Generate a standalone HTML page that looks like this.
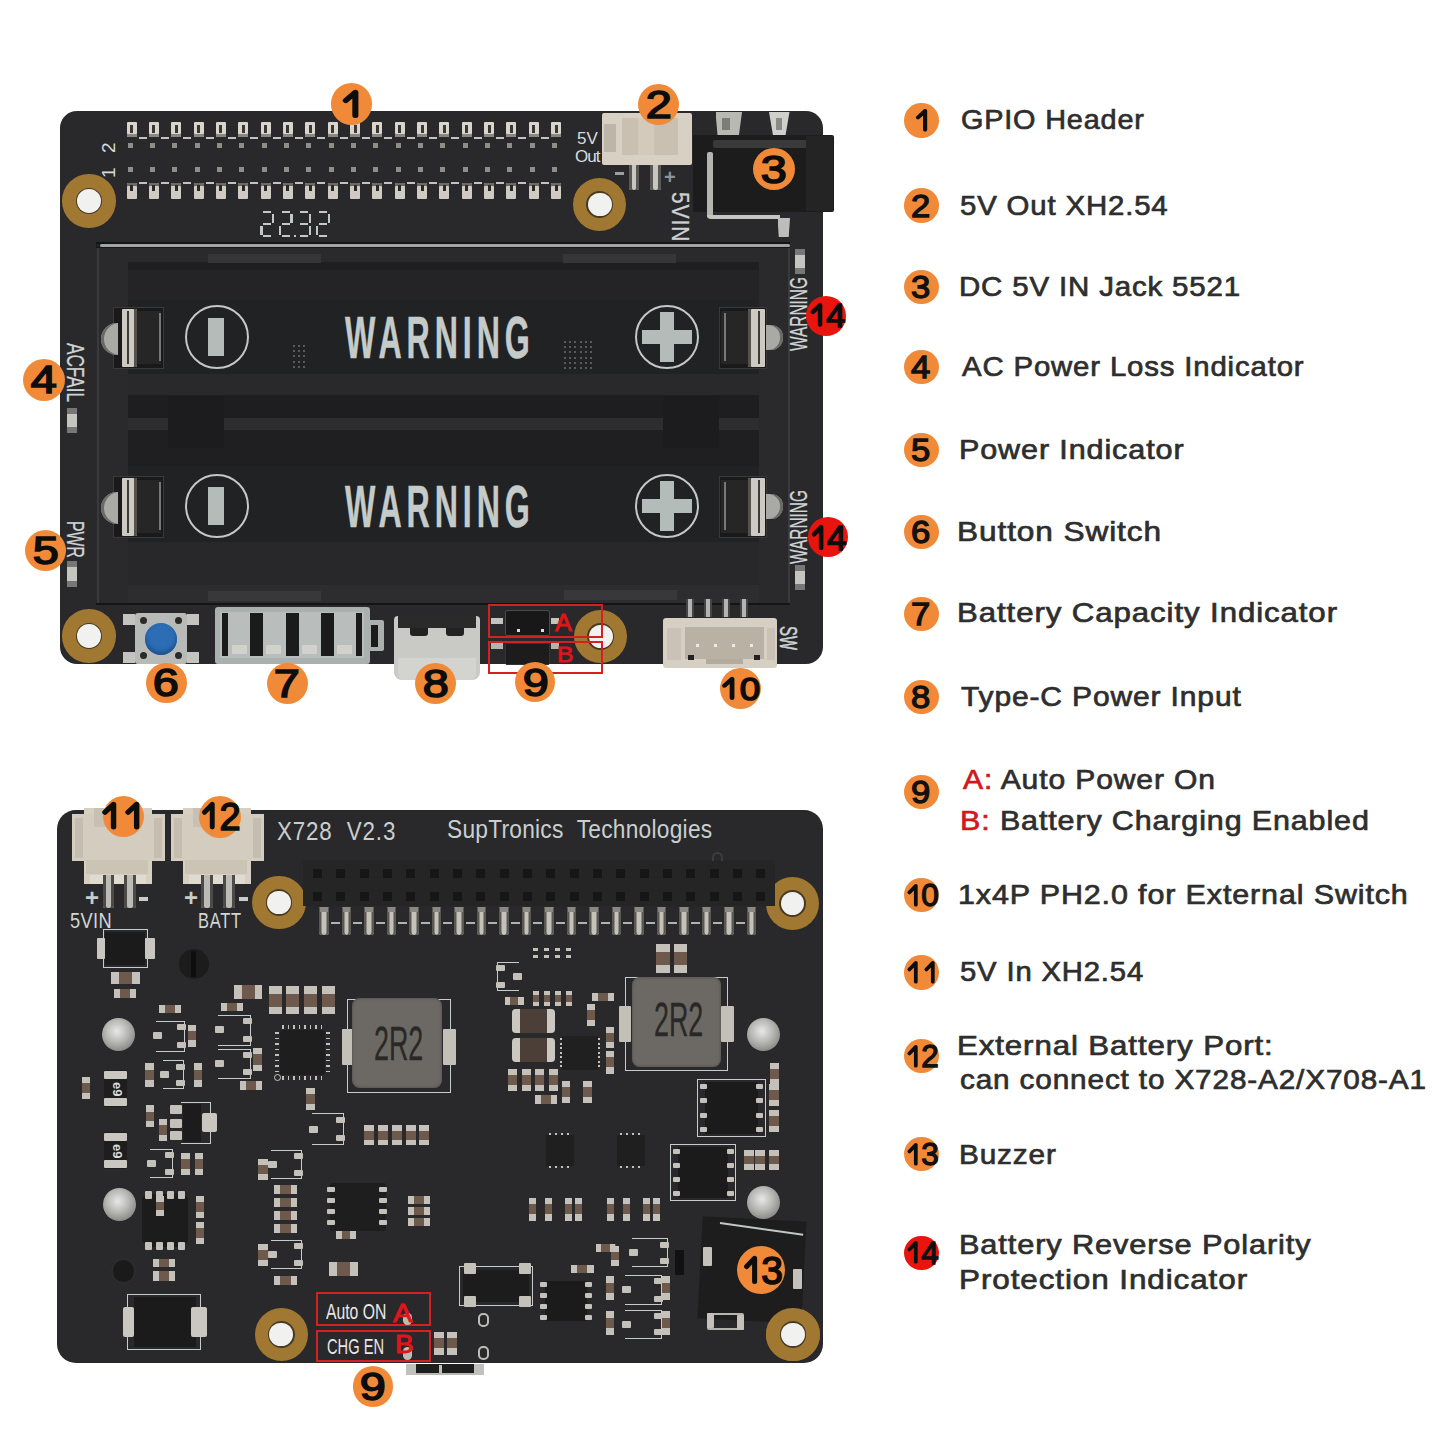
<!DOCTYPE html>
<html><head><meta charset="utf-8">
<style>
*{margin:0;padding:0;box-sizing:border-box}
html,body{width:1445px;height:1445px;background:#fff;overflow:hidden}
body{position:relative;font-family:"Liberation Sans",sans-serif}
.a{position:absolute}
.t{position:absolute;white-space:nowrap;line-height:1;font-family:"Liberation Sans",sans-serif}
.board{position:absolute;background:#29292b}
#b1{left:60px;top:111px;width:763px;height:553px;border-radius:17px}
#b2{left:57px;top:810px;width:766px;height:553px;border-radius:19px}
.num{position:absolute;border-radius:50%;color:#0d0d0d;font-weight:normal;-webkit-text-stroke:1.6px #0d0d0d;display:flex;align-items:center;justify-content:center;line-height:1;font-family:"Liberation Sans",sans-serif;white-space:nowrap}
.li{position:absolute;color:#2e2e2e;font-size:27.8px;line-height:1;white-space:nowrap;letter-spacing:0.8px;-webkit-text-stroke:0.7px #2e2e2e;transform-origin:left top}
.ln{position:absolute;width:34.5px;height:34.5px;border-radius:50%;background:#f18a38;color:#111;display:flex;align-items:center;justify-content:center;line-height:1;font-weight:normal;-webkit-text-stroke:1.3px #111;white-space:nowrap}
.ln.red{background:#e8150f}

</style></head>
<body>
<div class="board" id="b1"></div>
<div class="a" style="left:62.2px;top:174.2px;width:53.6px;height:53.6px;background:#a17832;border-radius:50%"></div>
<div class="a" style="left:75.7px;top:187.7px;width:26.6px;height:26.6px;background:#4a3a22;border-radius:50%"></div>
<div class="a" style="left:77.1px;top:189.1px;width:23.8px;height:23.8px;background:#f1f1ef;border-radius:50%"></div>
<div class="a" style="left:572.9000000000001px;top:177.7px;width:53.6px;height:53.6px;background:#a17832;border-radius:50%"></div>
<div class="a" style="left:586.4000000000001px;top:191.2px;width:26.6px;height:26.6px;background:#4a3a22;border-radius:50%"></div>
<div class="a" style="left:587.8000000000001px;top:192.6px;width:23.8px;height:23.8px;background:#f1f1ef;border-radius:50%"></div>
<div class="a" style="left:62.2px;top:609.2px;width:53.6px;height:53.6px;background:#a17832;border-radius:50%"></div>
<div class="a" style="left:75.7px;top:622.7px;width:26.6px;height:26.6px;background:#4a3a22;border-radius:50%"></div>
<div class="a" style="left:77.1px;top:624.1px;width:23.8px;height:23.8px;background:#f1f1ef;border-radius:50%"></div>
<div class="a" style="left:573.9000000000001px;top:609.6px;width:53.6px;height:53.6px;background:#a17832;border-radius:50%"></div>
<div class="a" style="left:587.4000000000001px;top:623.1px;width:26.6px;height:26.6px;background:#4a3a22;border-radius:50%"></div>
<div class="a" style="left:588.8000000000001px;top:624.5px;width:23.8px;height:23.8px;background:#f1f1ef;border-radius:50%"></div>
<div class="a" style="left:126.5px;top:121.5px;width:10px;height:15.5px;background:#d9d5cd;border-radius:1px;box-shadow:inset 0 -3px 0 #8c887f"></div>
<div class="a" style="left:130.0px;top:125px;width:3px;height:8px;background:#3a3835;"></div>
<div class="a" style="left:126.5px;top:182.5px;width:10px;height:16px;background:#cfcbc2;border-radius:1px;box-shadow:inset 0 3px 0 #6d6a63"></div>
<div class="a" style="left:130.0px;top:185px;width:3px;height:6px;background:#2a2826;"></div>
<div class="a" style="left:127.5px;top:143px;width:5px;height:5px;background:#8e8e88;"></div>
<div class="a" style="left:127.5px;top:167px;width:5px;height:5px;background:#8e8e88;"></div>
<div class="a" style="left:138.5px;top:137px;width:8px;height:1.6px;background:#bfc3c1;"></div>
<div class="a" style="left:138.5px;top:182px;width:8px;height:1.6px;background:#bfc3c1;"></div>
<div class="a" style="left:148.85px;top:121.5px;width:10px;height:15.5px;background:#d9d5cd;border-radius:1px;box-shadow:inset 0 -3px 0 #8c887f"></div>
<div class="a" style="left:152.35px;top:125px;width:3px;height:8px;background:#3a3835;"></div>
<div class="a" style="left:148.85px;top:182.5px;width:10px;height:16px;background:#cfcbc2;border-radius:1px;box-shadow:inset 0 3px 0 #6d6a63"></div>
<div class="a" style="left:152.35px;top:185px;width:3px;height:6px;background:#2a2826;"></div>
<div class="a" style="left:149.85px;top:143px;width:5px;height:5px;background:#8e8e88;"></div>
<div class="a" style="left:149.85px;top:167px;width:5px;height:5px;background:#8e8e88;"></div>
<div class="a" style="left:160.85px;top:137px;width:8px;height:1.6px;background:#bfc3c1;"></div>
<div class="a" style="left:160.85px;top:182px;width:8px;height:1.6px;background:#bfc3c1;"></div>
<div class="a" style="left:171.2px;top:121.5px;width:10px;height:15.5px;background:#d9d5cd;border-radius:1px;box-shadow:inset 0 -3px 0 #8c887f"></div>
<div class="a" style="left:174.7px;top:125px;width:3px;height:8px;background:#3a3835;"></div>
<div class="a" style="left:171.2px;top:182.5px;width:10px;height:16px;background:#cfcbc2;border-radius:1px;box-shadow:inset 0 3px 0 #6d6a63"></div>
<div class="a" style="left:174.7px;top:185px;width:3px;height:6px;background:#2a2826;"></div>
<div class="a" style="left:172.2px;top:143px;width:5px;height:5px;background:#8e8e88;"></div>
<div class="a" style="left:172.2px;top:167px;width:5px;height:5px;background:#8e8e88;"></div>
<div class="a" style="left:183.2px;top:137px;width:8px;height:1.6px;background:#bfc3c1;"></div>
<div class="a" style="left:183.2px;top:182px;width:8px;height:1.6px;background:#bfc3c1;"></div>
<div class="a" style="left:193.55px;top:121.5px;width:10px;height:15.5px;background:#d9d5cd;border-radius:1px;box-shadow:inset 0 -3px 0 #8c887f"></div>
<div class="a" style="left:197.05px;top:125px;width:3px;height:8px;background:#3a3835;"></div>
<div class="a" style="left:193.55px;top:182.5px;width:10px;height:16px;background:#cfcbc2;border-radius:1px;box-shadow:inset 0 3px 0 #6d6a63"></div>
<div class="a" style="left:197.05px;top:185px;width:3px;height:6px;background:#2a2826;"></div>
<div class="a" style="left:194.55px;top:143px;width:5px;height:5px;background:#8e8e88;"></div>
<div class="a" style="left:194.55px;top:167px;width:5px;height:5px;background:#8e8e88;"></div>
<div class="a" style="left:205.55px;top:137px;width:8px;height:1.6px;background:#bfc3c1;"></div>
<div class="a" style="left:205.55px;top:182px;width:8px;height:1.6px;background:#bfc3c1;"></div>
<div class="a" style="left:215.9px;top:121.5px;width:10px;height:15.5px;background:#d9d5cd;border-radius:1px;box-shadow:inset 0 -3px 0 #8c887f"></div>
<div class="a" style="left:219.4px;top:125px;width:3px;height:8px;background:#3a3835;"></div>
<div class="a" style="left:215.9px;top:182.5px;width:10px;height:16px;background:#cfcbc2;border-radius:1px;box-shadow:inset 0 3px 0 #6d6a63"></div>
<div class="a" style="left:219.4px;top:185px;width:3px;height:6px;background:#2a2826;"></div>
<div class="a" style="left:216.9px;top:143px;width:5px;height:5px;background:#8e8e88;"></div>
<div class="a" style="left:216.9px;top:167px;width:5px;height:5px;background:#8e8e88;"></div>
<div class="a" style="left:227.9px;top:137px;width:8px;height:1.6px;background:#bfc3c1;"></div>
<div class="a" style="left:227.9px;top:182px;width:8px;height:1.6px;background:#bfc3c1;"></div>
<div class="a" style="left:238.25px;top:121.5px;width:10px;height:15.5px;background:#d9d5cd;border-radius:1px;box-shadow:inset 0 -3px 0 #8c887f"></div>
<div class="a" style="left:241.75px;top:125px;width:3px;height:8px;background:#3a3835;"></div>
<div class="a" style="left:238.25px;top:182.5px;width:10px;height:16px;background:#cfcbc2;border-radius:1px;box-shadow:inset 0 3px 0 #6d6a63"></div>
<div class="a" style="left:241.75px;top:185px;width:3px;height:6px;background:#2a2826;"></div>
<div class="a" style="left:239.25px;top:143px;width:5px;height:5px;background:#8e8e88;"></div>
<div class="a" style="left:239.25px;top:167px;width:5px;height:5px;background:#8e8e88;"></div>
<div class="a" style="left:250.25px;top:137px;width:8px;height:1.6px;background:#bfc3c1;"></div>
<div class="a" style="left:250.25px;top:182px;width:8px;height:1.6px;background:#bfc3c1;"></div>
<div class="a" style="left:260.6px;top:121.5px;width:10px;height:15.5px;background:#d9d5cd;border-radius:1px;box-shadow:inset 0 -3px 0 #8c887f"></div>
<div class="a" style="left:264.1px;top:125px;width:3px;height:8px;background:#3a3835;"></div>
<div class="a" style="left:260.6px;top:182.5px;width:10px;height:16px;background:#cfcbc2;border-radius:1px;box-shadow:inset 0 3px 0 #6d6a63"></div>
<div class="a" style="left:264.1px;top:185px;width:3px;height:6px;background:#2a2826;"></div>
<div class="a" style="left:261.6px;top:143px;width:5px;height:5px;background:#8e8e88;"></div>
<div class="a" style="left:261.6px;top:167px;width:5px;height:5px;background:#8e8e88;"></div>
<div class="a" style="left:272.6px;top:137px;width:8px;height:1.6px;background:#bfc3c1;"></div>
<div class="a" style="left:272.6px;top:182px;width:8px;height:1.6px;background:#bfc3c1;"></div>
<div class="a" style="left:282.95000000000005px;top:121.5px;width:10px;height:15.5px;background:#d9d5cd;border-radius:1px;box-shadow:inset 0 -3px 0 #8c887f"></div>
<div class="a" style="left:286.45000000000005px;top:125px;width:3px;height:8px;background:#3a3835;"></div>
<div class="a" style="left:282.95000000000005px;top:182.5px;width:10px;height:16px;background:#cfcbc2;border-radius:1px;box-shadow:inset 0 3px 0 #6d6a63"></div>
<div class="a" style="left:286.45000000000005px;top:185px;width:3px;height:6px;background:#2a2826;"></div>
<div class="a" style="left:283.95000000000005px;top:143px;width:5px;height:5px;background:#8e8e88;"></div>
<div class="a" style="left:283.95000000000005px;top:167px;width:5px;height:5px;background:#8e8e88;"></div>
<div class="a" style="left:294.95000000000005px;top:137px;width:8px;height:1.6px;background:#bfc3c1;"></div>
<div class="a" style="left:294.95000000000005px;top:182px;width:8px;height:1.6px;background:#bfc3c1;"></div>
<div class="a" style="left:305.3px;top:121.5px;width:10px;height:15.5px;background:#d9d5cd;border-radius:1px;box-shadow:inset 0 -3px 0 #8c887f"></div>
<div class="a" style="left:308.8px;top:125px;width:3px;height:8px;background:#3a3835;"></div>
<div class="a" style="left:305.3px;top:182.5px;width:10px;height:16px;background:#cfcbc2;border-radius:1px;box-shadow:inset 0 3px 0 #6d6a63"></div>
<div class="a" style="left:308.8px;top:185px;width:3px;height:6px;background:#2a2826;"></div>
<div class="a" style="left:306.3px;top:143px;width:5px;height:5px;background:#8e8e88;"></div>
<div class="a" style="left:306.3px;top:167px;width:5px;height:5px;background:#8e8e88;"></div>
<div class="a" style="left:317.3px;top:137px;width:8px;height:1.6px;background:#bfc3c1;"></div>
<div class="a" style="left:317.3px;top:182px;width:8px;height:1.6px;background:#bfc3c1;"></div>
<div class="a" style="left:327.65px;top:121.5px;width:10px;height:15.5px;background:#d9d5cd;border-radius:1px;box-shadow:inset 0 -3px 0 #8c887f"></div>
<div class="a" style="left:331.15px;top:125px;width:3px;height:8px;background:#3a3835;"></div>
<div class="a" style="left:327.65px;top:182.5px;width:10px;height:16px;background:#cfcbc2;border-radius:1px;box-shadow:inset 0 3px 0 #6d6a63"></div>
<div class="a" style="left:331.15px;top:185px;width:3px;height:6px;background:#2a2826;"></div>
<div class="a" style="left:328.65px;top:143px;width:5px;height:5px;background:#8e8e88;"></div>
<div class="a" style="left:328.65px;top:167px;width:5px;height:5px;background:#8e8e88;"></div>
<div class="a" style="left:339.65px;top:137px;width:8px;height:1.6px;background:#bfc3c1;"></div>
<div class="a" style="left:339.65px;top:182px;width:8px;height:1.6px;background:#bfc3c1;"></div>
<div class="a" style="left:350.0px;top:121.5px;width:10px;height:15.5px;background:#d9d5cd;border-radius:1px;box-shadow:inset 0 -3px 0 #8c887f"></div>
<div class="a" style="left:353.5px;top:125px;width:3px;height:8px;background:#3a3835;"></div>
<div class="a" style="left:350.0px;top:182.5px;width:10px;height:16px;background:#cfcbc2;border-radius:1px;box-shadow:inset 0 3px 0 #6d6a63"></div>
<div class="a" style="left:353.5px;top:185px;width:3px;height:6px;background:#2a2826;"></div>
<div class="a" style="left:351.0px;top:143px;width:5px;height:5px;background:#8e8e88;"></div>
<div class="a" style="left:351.0px;top:167px;width:5px;height:5px;background:#8e8e88;"></div>
<div class="a" style="left:362.0px;top:137px;width:8px;height:1.6px;background:#bfc3c1;"></div>
<div class="a" style="left:362.0px;top:182px;width:8px;height:1.6px;background:#bfc3c1;"></div>
<div class="a" style="left:372.35px;top:121.5px;width:10px;height:15.5px;background:#d9d5cd;border-radius:1px;box-shadow:inset 0 -3px 0 #8c887f"></div>
<div class="a" style="left:375.85px;top:125px;width:3px;height:8px;background:#3a3835;"></div>
<div class="a" style="left:372.35px;top:182.5px;width:10px;height:16px;background:#cfcbc2;border-radius:1px;box-shadow:inset 0 3px 0 #6d6a63"></div>
<div class="a" style="left:375.85px;top:185px;width:3px;height:6px;background:#2a2826;"></div>
<div class="a" style="left:373.35px;top:143px;width:5px;height:5px;background:#8e8e88;"></div>
<div class="a" style="left:373.35px;top:167px;width:5px;height:5px;background:#8e8e88;"></div>
<div class="a" style="left:384.35px;top:137px;width:8px;height:1.6px;background:#bfc3c1;"></div>
<div class="a" style="left:384.35px;top:182px;width:8px;height:1.6px;background:#bfc3c1;"></div>
<div class="a" style="left:394.70000000000005px;top:121.5px;width:10px;height:15.5px;background:#d9d5cd;border-radius:1px;box-shadow:inset 0 -3px 0 #8c887f"></div>
<div class="a" style="left:398.20000000000005px;top:125px;width:3px;height:8px;background:#3a3835;"></div>
<div class="a" style="left:394.70000000000005px;top:182.5px;width:10px;height:16px;background:#cfcbc2;border-radius:1px;box-shadow:inset 0 3px 0 #6d6a63"></div>
<div class="a" style="left:398.20000000000005px;top:185px;width:3px;height:6px;background:#2a2826;"></div>
<div class="a" style="left:395.70000000000005px;top:143px;width:5px;height:5px;background:#8e8e88;"></div>
<div class="a" style="left:395.70000000000005px;top:167px;width:5px;height:5px;background:#8e8e88;"></div>
<div class="a" style="left:406.70000000000005px;top:137px;width:8px;height:1.6px;background:#bfc3c1;"></div>
<div class="a" style="left:406.70000000000005px;top:182px;width:8px;height:1.6px;background:#bfc3c1;"></div>
<div class="a" style="left:417.05px;top:121.5px;width:10px;height:15.5px;background:#d9d5cd;border-radius:1px;box-shadow:inset 0 -3px 0 #8c887f"></div>
<div class="a" style="left:420.55px;top:125px;width:3px;height:8px;background:#3a3835;"></div>
<div class="a" style="left:417.05px;top:182.5px;width:10px;height:16px;background:#cfcbc2;border-radius:1px;box-shadow:inset 0 3px 0 #6d6a63"></div>
<div class="a" style="left:420.55px;top:185px;width:3px;height:6px;background:#2a2826;"></div>
<div class="a" style="left:418.05px;top:143px;width:5px;height:5px;background:#8e8e88;"></div>
<div class="a" style="left:418.05px;top:167px;width:5px;height:5px;background:#8e8e88;"></div>
<div class="a" style="left:429.05px;top:137px;width:8px;height:1.6px;background:#bfc3c1;"></div>
<div class="a" style="left:429.05px;top:182px;width:8px;height:1.6px;background:#bfc3c1;"></div>
<div class="a" style="left:439.40000000000003px;top:121.5px;width:10px;height:15.5px;background:#d9d5cd;border-radius:1px;box-shadow:inset 0 -3px 0 #8c887f"></div>
<div class="a" style="left:442.90000000000003px;top:125px;width:3px;height:8px;background:#3a3835;"></div>
<div class="a" style="left:439.40000000000003px;top:182.5px;width:10px;height:16px;background:#cfcbc2;border-radius:1px;box-shadow:inset 0 3px 0 #6d6a63"></div>
<div class="a" style="left:442.90000000000003px;top:185px;width:3px;height:6px;background:#2a2826;"></div>
<div class="a" style="left:440.40000000000003px;top:143px;width:5px;height:5px;background:#8e8e88;"></div>
<div class="a" style="left:440.40000000000003px;top:167px;width:5px;height:5px;background:#8e8e88;"></div>
<div class="a" style="left:451.40000000000003px;top:137px;width:8px;height:1.6px;background:#bfc3c1;"></div>
<div class="a" style="left:451.40000000000003px;top:182px;width:8px;height:1.6px;background:#bfc3c1;"></div>
<div class="a" style="left:461.75px;top:121.5px;width:10px;height:15.5px;background:#d9d5cd;border-radius:1px;box-shadow:inset 0 -3px 0 #8c887f"></div>
<div class="a" style="left:465.25px;top:125px;width:3px;height:8px;background:#3a3835;"></div>
<div class="a" style="left:461.75px;top:182.5px;width:10px;height:16px;background:#cfcbc2;border-radius:1px;box-shadow:inset 0 3px 0 #6d6a63"></div>
<div class="a" style="left:465.25px;top:185px;width:3px;height:6px;background:#2a2826;"></div>
<div class="a" style="left:462.75px;top:143px;width:5px;height:5px;background:#8e8e88;"></div>
<div class="a" style="left:462.75px;top:167px;width:5px;height:5px;background:#8e8e88;"></div>
<div class="a" style="left:473.75px;top:137px;width:8px;height:1.6px;background:#bfc3c1;"></div>
<div class="a" style="left:473.75px;top:182px;width:8px;height:1.6px;background:#bfc3c1;"></div>
<div class="a" style="left:484.1px;top:121.5px;width:10px;height:15.5px;background:#d9d5cd;border-radius:1px;box-shadow:inset 0 -3px 0 #8c887f"></div>
<div class="a" style="left:487.6px;top:125px;width:3px;height:8px;background:#3a3835;"></div>
<div class="a" style="left:484.1px;top:182.5px;width:10px;height:16px;background:#cfcbc2;border-radius:1px;box-shadow:inset 0 3px 0 #6d6a63"></div>
<div class="a" style="left:487.6px;top:185px;width:3px;height:6px;background:#2a2826;"></div>
<div class="a" style="left:485.1px;top:143px;width:5px;height:5px;background:#8e8e88;"></div>
<div class="a" style="left:485.1px;top:167px;width:5px;height:5px;background:#8e8e88;"></div>
<div class="a" style="left:496.1px;top:137px;width:8px;height:1.6px;background:#bfc3c1;"></div>
<div class="a" style="left:496.1px;top:182px;width:8px;height:1.6px;background:#bfc3c1;"></div>
<div class="a" style="left:506.45000000000005px;top:121.5px;width:10px;height:15.5px;background:#d9d5cd;border-radius:1px;box-shadow:inset 0 -3px 0 #8c887f"></div>
<div class="a" style="left:509.95000000000005px;top:125px;width:3px;height:8px;background:#3a3835;"></div>
<div class="a" style="left:506.45000000000005px;top:182.5px;width:10px;height:16px;background:#cfcbc2;border-radius:1px;box-shadow:inset 0 3px 0 #6d6a63"></div>
<div class="a" style="left:509.95000000000005px;top:185px;width:3px;height:6px;background:#2a2826;"></div>
<div class="a" style="left:507.45000000000005px;top:143px;width:5px;height:5px;background:#8e8e88;"></div>
<div class="a" style="left:507.45000000000005px;top:167px;width:5px;height:5px;background:#8e8e88;"></div>
<div class="a" style="left:518.45px;top:137px;width:8px;height:1.6px;background:#bfc3c1;"></div>
<div class="a" style="left:518.45px;top:182px;width:8px;height:1.6px;background:#bfc3c1;"></div>
<div class="a" style="left:528.8px;top:121.5px;width:10px;height:15.5px;background:#d9d5cd;border-radius:1px;box-shadow:inset 0 -3px 0 #8c887f"></div>
<div class="a" style="left:532.3px;top:125px;width:3px;height:8px;background:#3a3835;"></div>
<div class="a" style="left:528.8px;top:182.5px;width:10px;height:16px;background:#cfcbc2;border-radius:1px;box-shadow:inset 0 3px 0 #6d6a63"></div>
<div class="a" style="left:532.3px;top:185px;width:3px;height:6px;background:#2a2826;"></div>
<div class="a" style="left:529.8px;top:143px;width:5px;height:5px;background:#8e8e88;"></div>
<div class="a" style="left:529.8px;top:167px;width:5px;height:5px;background:#8e8e88;"></div>
<div class="a" style="left:540.8px;top:137px;width:8px;height:1.6px;background:#bfc3c1;"></div>
<div class="a" style="left:540.8px;top:182px;width:8px;height:1.6px;background:#bfc3c1;"></div>
<div class="a" style="left:551.1500000000001px;top:121.5px;width:10px;height:15.5px;background:#d9d5cd;border-radius:1px;box-shadow:inset 0 -3px 0 #8c887f"></div>
<div class="a" style="left:554.6500000000001px;top:125px;width:3px;height:8px;background:#3a3835;"></div>
<div class="a" style="left:551.1500000000001px;top:182.5px;width:10px;height:16px;background:#cfcbc2;border-radius:1px;box-shadow:inset 0 3px 0 #6d6a63"></div>
<div class="a" style="left:554.6500000000001px;top:185px;width:3px;height:6px;background:#2a2826;"></div>
<div class="a" style="left:552.1500000000001px;top:143px;width:5px;height:5px;background:#8e8e88;"></div>
<div class="a" style="left:552.1500000000001px;top:167px;width:5px;height:5px;background:#8e8e88;"></div>
<div class="t" style="left:99px;top:153px;font-size:19px;color:#d6dad8;transform:rotate(-90deg);transform-origin:left top">2</div>
<div class="t" style="left:99px;top:178px;font-size:19px;color:#d6dad8;transform:rotate(-90deg);transform-origin:left top">1</div>
<div class="a" style="left:263.3px;top:211px;width:8px;height:2.4px;background:#c3c7c7;"></div>
<div class="a" style="left:271.90000000000003px;top:214px;width:2.4px;height:8.5px;background:#c3c7c7;"></div>
<div class="a" style="left:263.3px;top:223px;width:8px;height:2.4px;background:#c3c7c7;"></div>
<div class="a" style="left:260.3px;top:226px;width:2.4px;height:8.5px;background:#c3c7c7;"></div>
<div class="a" style="left:263.3px;top:234.5px;width:8px;height:2.4px;background:#c3c7c7;"></div>
<div class="a" style="left:281.6px;top:211px;width:8px;height:2.4px;background:#c3c7c7;"></div>
<div class="a" style="left:290.20000000000005px;top:214px;width:2.4px;height:8.5px;background:#c3c7c7;"></div>
<div class="a" style="left:281.6px;top:223px;width:8px;height:2.4px;background:#c3c7c7;"></div>
<div class="a" style="left:278.6px;top:226px;width:2.4px;height:8.5px;background:#c3c7c7;"></div>
<div class="a" style="left:281.6px;top:234.5px;width:8px;height:2.4px;background:#c3c7c7;"></div>
<div class="a" style="left:300.3px;top:211px;width:8px;height:2.4px;background:#c3c7c7;"></div>
<div class="a" style="left:308.90000000000003px;top:214px;width:2.4px;height:8.5px;background:#c3c7c7;"></div>
<div class="a" style="left:300.3px;top:223px;width:8px;height:2.4px;background:#c3c7c7;"></div>
<div class="a" style="left:308.90000000000003px;top:226px;width:2.4px;height:8.5px;background:#c3c7c7;"></div>
<div class="a" style="left:300.3px;top:234.5px;width:8px;height:2.4px;background:#c3c7c7;"></div>
<div class="a" style="left:319px;top:211px;width:8px;height:2.4px;background:#c3c7c7;"></div>
<div class="a" style="left:327.6px;top:214px;width:2.4px;height:8.5px;background:#c3c7c7;"></div>
<div class="a" style="left:319px;top:223px;width:8px;height:2.4px;background:#c3c7c7;"></div>
<div class="a" style="left:316px;top:226px;width:2.4px;height:8.5px;background:#c3c7c7;"></div>
<div class="a" style="left:319px;top:234.5px;width:8px;height:2.4px;background:#c3c7c7;"></div>
<div class="a" style="left:293.6px;top:234.5px;width:2.4px;height:2.2px;background:#c3c7c7;"></div>
<div class="a" style="left:602px;top:112.5px;width:90px;height:52px;background:#d7d0c3;border-radius:2px"></div>
<div class="a" style="left:622px;top:118px;width:56px;height:37px;background:#c9c0b1;"></div>
<div class="a" style="left:638px;top:118px;width:16px;height:37px;background:#d3cabb;"></div>
<div class="a" style="left:604px;top:124px;width:12px;height:28px;background:#bdb6a8;"></div>
<div class="a" style="left:628.5px;top:165px;width:10.5px;height:25px;background:#c8c6c0;border-radius:0 0 2px 2px;box-shadow:inset 3px 0 0 #5a5854,inset -3px 0 0 #5a5854"></div>
<div class="a" style="left:650px;top:165px;width:10.5px;height:25px;background:#c8c6c0;border-radius:0 0 2px 2px;box-shadow:inset 3px 0 0 #5a5854,inset -3px 0 0 #5a5854"></div>
<div class="t" style="left:577px;top:130px;font-size:17px;color:#d8dcdc;">5V</div>
<div class="t" style="left:575px;top:148px;font-size:17px;color:#d8dcdc;letter-spacing:-1px">Out</div>
<div class="a" style="left:615px;top:172px;width:9px;height:3px;background:#9aa09e;"></div>
<div class="t" style="left:664px;top:167px;font-size:20px;color:#8d9593;font-weight:bold">+</div>
<div class="t" style="left:691.7px;top:191.5px;font-size:24.5px;color:#cdd1d1;transform:rotate(90deg) scaleX(0.86);transform-origin:left top;letter-spacing:1px;-webkit-text-stroke:0.3px #cdd1d1">5VIN</div>
<div class="a" style="left:715.5px;top:112px;width:26.5px;height:24px;background:#b9b9b4;clip-path:polygon(0 0,100% 0,88% 100%,8% 100%)"></div>
<div class="a" style="left:722px;top:118px;width:8px;height:12px;background:#7d7d78;"></div>
<div class="a" style="left:769px;top:112px;width:20.5px;height:24px;background:#cfcfcb;clip-path:polygon(0 0,100% 0,80% 100%,20% 100%)"></div>
<div class="a" style="left:776px;top:118px;width:6px;height:12px;background:#8a8a86;"></div>
<div class="a" style="left:693px;top:135px;width:141px;height:77px;background:#1c1c1c;border-radius:2px"></div>
<div class="a" style="left:713px;top:140px;width:95px;height:8px;background:#3a3a3a;border-radius:2px"></div>
<div class="a" style="left:707px;top:152px;width:5.5px;height:66px;background:#b4b4b0;border-radius:2px"></div>
<div class="a" style="left:707px;top:214.5px;width:73px;height:4.5px;background:#c4c4c0;border-radius:0 0 0 4px"></div>
<div class="a" style="left:777.5px;top:218px;width:12.5px;height:19px;background:#bdbdb9;clip-path:polygon(0 0,100% 0,90% 100%,10% 100%)"></div>
<div class="a" style="left:806px;top:136px;width:27px;height:75px;background:#242424;"></div>
<div class="a" style="left:96px;top:243px;width:694px;height:362px;background:#1f1f21;border-radius:2px"></div>
<div class="a" style="left:96px;top:603px;width:694px;height:2px;background:#141414;"></div>
<div class="a" style="left:96px;top:241.5px;width:694px;height:2px;background:#141414;"></div>
<div class="a" style="left:100px;top:243.5px;width:690px;height:3px;background:#a0a4a4;border-radius:2px"></div>
<div class="a" style="left:96px;top:246.5px;width:694px;height:1.5px;background:#161616;"></div>
<div class="a" style="left:96px;top:248px;width:694px;height:14px;background:#2a2a2c;"></div>
<div class="a" style="left:96px;top:585px;width:694px;height:18px;background:#2d2d2f;"></div>
<div class="a" style="left:128px;top:270px;width:631px;height:30px;background:#242426;"></div>
<div class="a" style="left:128px;top:542px;width:631px;height:43px;background:#28282a;"></div>
<div class="a" style="left:96px;top:248px;width:32px;height:355px;background:#2a2a2c;"></div>
<div class="a" style="left:97px;top:248px;width:2px;height:355px;background:#3a3a3c;"></div>
<div class="a" style="left:759px;top:248px;width:31px;height:355px;background:#2a2a2c;"></div>
<div class="a" style="left:787.5px;top:248px;width:2px;height:355px;background:#3a3a3c;"></div>
<div class="a" style="left:208px;top:254px;width:113px;height:9px;background:#363638;"></div>
<div class="a" style="left:563px;top:254px;width:113px;height:9px;background:#363638;"></div>
<div class="a" style="left:208px;top:591px;width:113px;height:10px;background:#38383a;"></div>
<div class="a" style="left:564px;top:590px;width:113px;height:10px;background:#38383a;"></div>
<div class="a" style="left:128px;top:300px;width:631px;height:74px;background:#212224;"></div>
<div class="a" style="left:128px;top:466px;width:631px;height:76px;background:#212224;"></div>
<div class="a" style="left:128px;top:374px;width:631px;height:21px;background:#29292b;"></div>
<div class="a" style="left:128px;top:395px;width:631px;height:23px;background:#1e1e20;"></div>
<div class="a" style="left:128px;top:418px;width:631px;height:12px;background:#2d2d2f;"></div>
<div class="a" style="left:128px;top:430px;width:631px;height:36px;background:#1f1f21;"></div>
<div class="a" style="left:168px;top:396px;width:56px;height:52px;background:#1c1c1e;border-radius:4px"></div>
<div class="a" style="left:663px;top:396px;width:56px;height:52px;background:#1c1c1e;border-radius:4px"></div>
<div class="a" style="left:184.5px;top:305px;width:64px;height:64px;background:transparent;border:2px solid #c3c8c8;border-radius:50%"></div>
<div class="a" style="left:208px;top:318px;width:16px;height:38px;background:#b4bcba;"></div>
<div class="a" style="left:635px;top:305px;width:64px;height:64px;background:transparent;border:2px solid #c3c8c8;border-radius:50%"></div>
<div class="a" style="left:642px;top:330px;width:50px;height:14px;background:#b4bcba;"></div>
<div class="a" style="left:660px;top:312px;width:14px;height:50px;background:#b4bcba;"></div>
<div class="t" style="left:344.5px;top:309.06px;font-size:59px;color:#c4cbc9;font-weight:bold;letter-spacing:9px;transform:scaleX(0.545);transform-origin:left top;-webkit-text-stroke:0.5px #c4cbc9">WARNING</div>
<div class="a" style="left:113px;top:307px;width:51px;height:62px;background:#1a1a1a;border:1px solid #3a3a3a"></div>
<div class="a" style="left:100.5px;top:322.5px;width:17px;height:32.5px;background:#a9a9a5;border-radius:16px 0 0 16px;box-shadow:inset 3px 0 0 #6a6a66"></div>
<div class="a" style="left:121.8px;top:308.5px;width:15.5px;height:58px;background:#cdcac3;box-shadow:inset -3px 0 0 #55524d;border-radius:1px"></div>
<div class="a" style="left:126.5px;top:311px;width:2px;height:53px;background:#3d3b38;"></div>
<div class="a" style="left:137.3px;top:311px;width:24px;height:53px;background:#262626;"></div>
<div class="a" style="left:159px;top:313px;width:2px;height:48px;background:#777;"></div>
<div class="a" style="left:719px;top:307px;width:48px;height:62px;background:#1a1a1a;border:1px solid #3a3a3a"></div>
<div class="a" style="left:766px;top:325px;width:17px;height:25px;background:#a9a9a5;border-radius:0 12px 12px 0;box-shadow:inset -3px 0 0 #6a6a66"></div>
<div class="a" style="left:748.3px;top:308.5px;width:17px;height:58px;background:#cdcac3;box-shadow:inset 3px 0 0 #55524d;border-radius:1px"></div>
<div class="a" style="left:758px;top:311px;width:2px;height:53px;background:#3d3b38;"></div>
<div class="a" style="left:721px;top:311px;width:27px;height:53px;background:#262626;"></div>
<div class="a" style="left:724px;top:313px;width:2px;height:48px;background:#777;"></div>
<div class="a" style="left:184.5px;top:474px;width:64px;height:64px;background:transparent;border:2px solid #c3c8c8;border-radius:50%"></div>
<div class="a" style="left:208px;top:487px;width:16px;height:38px;background:#b4bcba;"></div>
<div class="a" style="left:635px;top:474px;width:64px;height:64px;background:transparent;border:2px solid #c3c8c8;border-radius:50%"></div>
<div class="a" style="left:642px;top:499px;width:50px;height:14px;background:#b4bcba;"></div>
<div class="a" style="left:660px;top:481px;width:14px;height:50px;background:#b4bcba;"></div>
<div class="t" style="left:344.5px;top:478.06px;font-size:59px;color:#c4cbc9;font-weight:bold;letter-spacing:9px;transform:scaleX(0.545);transform-origin:left top;-webkit-text-stroke:0.5px #c4cbc9">WARNING</div>
<div class="a" style="left:113px;top:476px;width:51px;height:62px;background:#1a1a1a;border:1px solid #3a3a3a"></div>
<div class="a" style="left:100.5px;top:491.5px;width:17px;height:32.5px;background:#a9a9a5;border-radius:16px 0 0 16px;box-shadow:inset 3px 0 0 #6a6a66"></div>
<div class="a" style="left:121.8px;top:477.5px;width:15.5px;height:58px;background:#cdcac3;box-shadow:inset -3px 0 0 #55524d;border-radius:1px"></div>
<div class="a" style="left:126.5px;top:480px;width:2px;height:53px;background:#3d3b38;"></div>
<div class="a" style="left:137.3px;top:480px;width:24px;height:53px;background:#262626;"></div>
<div class="a" style="left:159px;top:482px;width:2px;height:48px;background:#777;"></div>
<div class="a" style="left:719px;top:476px;width:48px;height:62px;background:#1a1a1a;border:1px solid #3a3a3a"></div>
<div class="a" style="left:766px;top:494px;width:17px;height:25px;background:#a9a9a5;border-radius:0 12px 12px 0;box-shadow:inset -3px 0 0 #6a6a66"></div>
<div class="a" style="left:748.3px;top:477.5px;width:17px;height:58px;background:#cdcac3;box-shadow:inset 3px 0 0 #55524d;border-radius:1px"></div>
<div class="a" style="left:758px;top:480px;width:2px;height:53px;background:#3d3b38;"></div>
<div class="a" style="left:721px;top:480px;width:27px;height:53px;background:#262626;"></div>
<div class="a" style="left:724px;top:482px;width:2px;height:48px;background:#777;"></div>
<div class="a" style="left:293.0px;top:345.0px;width:2px;height:2px;background:#5a5a5a;"></div>
<div class="a" style="left:298.2px;top:345.0px;width:2px;height:2px;background:#5a5a5a;"></div>
<div class="a" style="left:303.4px;top:345.0px;width:2px;height:2px;background:#5a5a5a;"></div>
<div class="a" style="left:293.0px;top:350.2px;width:2px;height:2px;background:#5a5a5a;"></div>
<div class="a" style="left:298.2px;top:350.2px;width:2px;height:2px;background:#5a5a5a;"></div>
<div class="a" style="left:303.4px;top:350.2px;width:2px;height:2px;background:#5a5a5a;"></div>
<div class="a" style="left:293.0px;top:355.4px;width:2px;height:2px;background:#5a5a5a;"></div>
<div class="a" style="left:298.2px;top:355.4px;width:2px;height:2px;background:#5a5a5a;"></div>
<div class="a" style="left:303.4px;top:355.4px;width:2px;height:2px;background:#5a5a5a;"></div>
<div class="a" style="left:293.0px;top:360.6px;width:2px;height:2px;background:#5a5a5a;"></div>
<div class="a" style="left:298.2px;top:360.6px;width:2px;height:2px;background:#5a5a5a;"></div>
<div class="a" style="left:303.4px;top:360.6px;width:2px;height:2px;background:#5a5a5a;"></div>
<div class="a" style="left:293.0px;top:365.8px;width:2px;height:2px;background:#5a5a5a;"></div>
<div class="a" style="left:298.2px;top:365.8px;width:2px;height:2px;background:#5a5a5a;"></div>
<div class="a" style="left:303.4px;top:365.8px;width:2px;height:2px;background:#5a5a5a;"></div>
<div class="a" style="left:564.0px;top:341.0px;width:2px;height:2px;background:#5a5a5a;"></div>
<div class="a" style="left:569.2px;top:341.0px;width:2px;height:2px;background:#5a5a5a;"></div>
<div class="a" style="left:574.4px;top:341.0px;width:2px;height:2px;background:#5a5a5a;"></div>
<div class="a" style="left:579.6px;top:341.0px;width:2px;height:2px;background:#5a5a5a;"></div>
<div class="a" style="left:584.8px;top:341.0px;width:2px;height:2px;background:#5a5a5a;"></div>
<div class="a" style="left:590.0px;top:341.0px;width:2px;height:2px;background:#5a5a5a;"></div>
<div class="a" style="left:564.0px;top:346.2px;width:2px;height:2px;background:#5a5a5a;"></div>
<div class="a" style="left:569.2px;top:346.2px;width:2px;height:2px;background:#5a5a5a;"></div>
<div class="a" style="left:574.4px;top:346.2px;width:2px;height:2px;background:#5a5a5a;"></div>
<div class="a" style="left:579.6px;top:346.2px;width:2px;height:2px;background:#5a5a5a;"></div>
<div class="a" style="left:584.8px;top:346.2px;width:2px;height:2px;background:#5a5a5a;"></div>
<div class="a" style="left:590.0px;top:346.2px;width:2px;height:2px;background:#5a5a5a;"></div>
<div class="a" style="left:564.0px;top:351.4px;width:2px;height:2px;background:#5a5a5a;"></div>
<div class="a" style="left:569.2px;top:351.4px;width:2px;height:2px;background:#5a5a5a;"></div>
<div class="a" style="left:574.4px;top:351.4px;width:2px;height:2px;background:#5a5a5a;"></div>
<div class="a" style="left:579.6px;top:351.4px;width:2px;height:2px;background:#5a5a5a;"></div>
<div class="a" style="left:584.8px;top:351.4px;width:2px;height:2px;background:#5a5a5a;"></div>
<div class="a" style="left:590.0px;top:351.4px;width:2px;height:2px;background:#5a5a5a;"></div>
<div class="a" style="left:564.0px;top:356.6px;width:2px;height:2px;background:#5a5a5a;"></div>
<div class="a" style="left:569.2px;top:356.6px;width:2px;height:2px;background:#5a5a5a;"></div>
<div class="a" style="left:574.4px;top:356.6px;width:2px;height:2px;background:#5a5a5a;"></div>
<div class="a" style="left:579.6px;top:356.6px;width:2px;height:2px;background:#5a5a5a;"></div>
<div class="a" style="left:584.8px;top:356.6px;width:2px;height:2px;background:#5a5a5a;"></div>
<div class="a" style="left:590.0px;top:356.6px;width:2px;height:2px;background:#5a5a5a;"></div>
<div class="a" style="left:564.0px;top:361.8px;width:2px;height:2px;background:#5a5a5a;"></div>
<div class="a" style="left:569.2px;top:361.8px;width:2px;height:2px;background:#5a5a5a;"></div>
<div class="a" style="left:574.4px;top:361.8px;width:2px;height:2px;background:#5a5a5a;"></div>
<div class="a" style="left:579.6px;top:361.8px;width:2px;height:2px;background:#5a5a5a;"></div>
<div class="a" style="left:584.8px;top:361.8px;width:2px;height:2px;background:#5a5a5a;"></div>
<div class="a" style="left:590.0px;top:361.8px;width:2px;height:2px;background:#5a5a5a;"></div>
<div class="a" style="left:564.0px;top:367.0px;width:2px;height:2px;background:#5a5a5a;"></div>
<div class="a" style="left:569.2px;top:367.0px;width:2px;height:2px;background:#5a5a5a;"></div>
<div class="a" style="left:574.4px;top:367.0px;width:2px;height:2px;background:#5a5a5a;"></div>
<div class="a" style="left:579.6px;top:367.0px;width:2px;height:2px;background:#5a5a5a;"></div>
<div class="a" style="left:584.8px;top:367.0px;width:2px;height:2px;background:#5a5a5a;"></div>
<div class="a" style="left:590.0px;top:367.0px;width:2px;height:2px;background:#5a5a5a;"></div>
<div class="t" style="left:86.5px;top:342.5px;font-size:24.5px;color:#cfd3d3;transform:rotate(90deg) scaleX(0.70);transform-origin:left top;-webkit-text-stroke:0.3px #cfd3d3">ACFAIL</div>
<div class="a" style="left:67px;top:408px;width:10px;height:25px;background:#c5c5c0;box-shadow:inset 0 6px 0 #777, inset 0 -6px 0 #777"></div>
<div class="t" style="left:86.5px;top:521px;font-size:24.5px;color:#cfd3d3;transform:rotate(90deg) scaleX(0.645);transform-origin:left top;-webkit-text-stroke:0.3px #cfd3d3">PWR</div>
<div class="a" style="left:67px;top:561px;width:10px;height:26px;background:#c5c5c0;box-shadow:inset 0 6px 0 #777, inset 0 -6px 0 #777"></div>
<div class="t" style="left:787.1px;top:351px;font-size:24.5px;color:#cfd3d3;transform:rotate(-90deg) scaleX(0.63);transform-origin:left top;-webkit-text-stroke:0.3px #cfd3d3">WARNING</div>
<div class="a" style="left:795px;top:249px;width:10px;height:25px;background:#c5c5c0;box-shadow:inset 0 6px 0 #777, inset 0 -6px 0 #777"></div>
<div class="t" style="left:787.1px;top:564px;font-size:24.5px;color:#cfd3d3;transform:rotate(-90deg) scaleX(0.63);transform-origin:left top;-webkit-text-stroke:0.3px #cfd3d3">WARNING</div>
<div class="a" style="left:795px;top:565px;width:10px;height:25px;background:#c5c5c0;box-shadow:inset 0 6px 0 #777, inset 0 -6px 0 #777"></div>
<div class="a" style="left:135px;top:613px;width:52px;height:51px;background:#b8bab8;border-radius:3px"></div>
<div class="a" style="left:123px;top:614px;width:12px;height:11px;background:#c5c3bd;"></div>
<div class="a" style="left:187px;top:614px;width:12px;height:11px;background:#c5c3bd;"></div>
<div class="a" style="left:123px;top:652px;width:12px;height:11px;background:#c5c3bd;"></div>
<div class="a" style="left:187px;top:652px;width:12px;height:11px;background:#c5c3bd;"></div>
<div class="a" style="left:140px;top:617px;width:7px;height:7px;background:#2a2a2a;border-radius:50%"></div>
<div class="a" style="left:175px;top:617px;width:7px;height:7px;background:#2a2a2a;border-radius:50%"></div>
<div class="a" style="left:140px;top:652px;width:7px;height:7px;background:#2a2a2a;border-radius:50%"></div>
<div class="a" style="left:175px;top:652px;width:7px;height:7px;background:#2a2a2a;border-radius:50%"></div>
<div class="a" style="left:145px;top:623px;width:32px;height:32px;background:#2c6db5;border-radius:50%;box-shadow:inset 0 -3px 4px #1d4e8a"></div>
<div class="a" style="left:214.5px;top:606.5px;width:155px;height:57px;background:#a9b0ae;border-radius:3px"></div>
<div class="a" style="left:220px;top:612px;width:144px;height:46px;background:#b9bebc;"></div>
<div class="a" style="left:221.8px;top:613px;width:6.199999999999989px;height:43px;background:#1b1b1b;"></div>
<div class="a" style="left:249.8px;top:613px;width:13.5px;height:43px;background:#1b1b1b;"></div>
<div class="a" style="left:286px;top:613px;width:12.600000000000023px;height:43px;background:#1b1b1b;"></div>
<div class="a" style="left:321.4px;top:613px;width:12.600000000000023px;height:43px;background:#1b1b1b;"></div>
<div class="a" style="left:355.7px;top:613px;width:6.300000000000011px;height:43px;background:#1b1b1b;"></div>
<div class="a" style="left:232px;top:645px;width:15px;height:9px;background:#d2d2cc;border-radius:1px"></div>
<div class="a" style="left:266px;top:645px;width:15px;height:9px;background:#d2d2cc;border-radius:1px"></div>
<div class="a" style="left:302px;top:645px;width:15px;height:9px;background:#d2d2cc;border-radius:1px"></div>
<div class="a" style="left:337px;top:645px;width:15px;height:9px;background:#d2d2cc;border-radius:1px"></div>
<div class="a" style="left:369px;top:620px;width:15px;height:31px;background:#a9b0ae;border-radius:0 2px 2px 0"></div>
<div class="a" style="left:371px;top:625px;width:7px;height:22px;background:#1b1b1b;"></div>
<div class="a" style="left:394px;top:616px;width:86px;height:64px;background:#c9c9c5;border-radius:4px 4px 8px 8px"></div>
<div class="a" style="left:398px;top:616px;width:78px;height:12px;background:#2a2a2a;"></div>
<div class="a" style="left:410px;top:628px;width:18px;height:8px;background:#222;border-radius:0 0 3px 3px"></div>
<div class="a" style="left:446px;top:628px;width:18px;height:8px;background:#222;border-radius:0 0 3px 3px"></div>
<div class="a" style="left:398px;top:658px;width:78px;height:22px;background:#d3d3cf;border-radius:0 0 6px 6px"></div>
<div class="a" style="left:505px;top:610px;width:45px;height:26px;background:#181818;border:1.2px solid #4a4a4a;border-radius:2px"></div>
<div class="a" style="left:517px;top:629px;width:2.5px;height:2.5px;background:#ddd;"></div>
<div class="a" style="left:541px;top:629px;width:2.5px;height:2.5px;background:#ddd;"></div>
<div class="a" style="left:491px;top:618px;width:12px;height:6px;background:#c4c4be;"></div>
<div class="a" style="left:551px;top:618px;width:8px;height:6px;background:#c4c4be;"></div>
<div class="a" style="left:505px;top:643px;width:45px;height:22px;background:#1c1c1c;border:1.2px solid #333;border-radius:2px"></div>
<div class="a" style="left:491px;top:643px;width:12px;height:6px;background:#b4b4ae;"></div>
<div class="a" style="left:551px;top:643px;width:8px;height:6px;background:#b4b4ae;"></div>
<div class="a" style="left:488.3px;top:603.8px;width:115px;height:34px;background:transparent;border:2px solid #d42020"></div>
<div class="a" style="left:488.3px;top:640.5px;width:115px;height:33.5px;background:transparent;border:2px solid #d42020"></div>
<div class="t" style="left:555.4px;top:611.16px;font-size:24px;color:#e2141a;-webkit-text-stroke:0.8px #e2141a;transform:scaleX(1.05);transform-origin:left top">A</div>
<div class="t" style="left:556.5px;top:643.8px;font-size:22.5px;color:#e2141a;-webkit-text-stroke:0.8px #e2141a;transform:scaleX(1.1);transform-origin:left top">B</div>
<div class="a" style="left:686px;top:599px;width:8px;height:18px;background:#b4b4b0;box-shadow:inset 2px 0 0 #444,inset -2px 0 0 #444"></div>
<div class="a" style="left:704px;top:599px;width:8px;height:18px;background:#b4b4b0;box-shadow:inset 2px 0 0 #444,inset -2px 0 0 #444"></div>
<div class="a" style="left:722px;top:599px;width:8px;height:18px;background:#b4b4b0;box-shadow:inset 2px 0 0 #444,inset -2px 0 0 #444"></div>
<div class="a" style="left:740px;top:599px;width:8px;height:18px;background:#b4b4b0;box-shadow:inset 2px 0 0 #444,inset -2px 0 0 #444"></div>
<div class="a" style="left:663px;top:617.5px;width:114.4px;height:50.5px;background:#d6d0c4;border-radius:3px"></div>
<div class="a" style="left:684.7px;top:626.7px;width:79px;height:32.3px;background:#b9b1a3;"></div>
<div class="a" style="left:705.7px;top:659px;width:37px;height:5px;background:#b3ab9d;"></div>
<div class="a" style="left:667px;top:628px;width:14px;height:32px;background:#c9c2b5;"></div>
<div class="a" style="left:767px;top:628px;width:8px;height:32px;background:#c9c2b5;"></div>
<div class="a" style="left:696px;top:644px;width:3px;height:3px;background:#eeeae2;"></div>
<div class="a" style="left:714px;top:644px;width:3px;height:3px;background:#eeeae2;"></div>
<div class="a" style="left:732px;top:644px;width:3px;height:3px;background:#eeeae2;"></div>
<div class="a" style="left:750px;top:644px;width:3px;height:3px;background:#eeeae2;"></div>
<div class="a" style="left:688px;top:655px;width:6px;height:5px;background:#222;"></div>
<div class="a" style="left:754px;top:655px;width:6px;height:5px;background:#222;"></div>
<div class="t" style="left:800.3px;top:626px;font-size:24px;color:#cfd3d3;transform:rotate(90deg) scaleX(0.62);transform-origin:left top;-webkit-text-stroke:0.5px #cfd3d3">SW</div>
<div class="board" id="b2"></div>
<div class="a" style="left:252.2px;top:875.7px;width:53.6px;height:53.6px;background:#a17832;border-radius:50%"></div>
<div class="a" style="left:265.7px;top:889.2px;width:26.6px;height:26.6px;background:#4a3a22;border-radius:50%"></div>
<div class="a" style="left:267.1px;top:890.6px;width:23.8px;height:23.8px;background:#f1f1ef;border-radius:50%"></div>
<div class="a" style="left:765.7px;top:876.7px;width:53.6px;height:53.6px;background:#a17832;border-radius:50%"></div>
<div class="a" style="left:779.2px;top:890.2px;width:26.6px;height:26.6px;background:#4a3a22;border-radius:50%"></div>
<div class="a" style="left:780.6px;top:891.6px;width:23.8px;height:23.8px;background:#f1f1ef;border-radius:50%"></div>
<div class="a" style="left:254.5px;top:1307.6000000000001px;width:53.6px;height:53.6px;background:#a17832;border-radius:50%"></div>
<div class="a" style="left:268.0px;top:1321.1000000000001px;width:26.6px;height:26.6px;background:#4a3a22;border-radius:50%"></div>
<div class="a" style="left:269.40000000000003px;top:1322.5px;width:23.8px;height:23.8px;background:#f1f1ef;border-radius:50%"></div>
<div class="a" style="left:766.2px;top:1307.6000000000001px;width:53.6px;height:53.6px;background:#a17832;border-radius:50%"></div>
<div class="a" style="left:779.7px;top:1321.1000000000001px;width:26.6px;height:26.6px;background:#4a3a22;border-radius:50%"></div>
<div class="a" style="left:781.1px;top:1322.5px;width:23.8px;height:23.8px;background:#f1f1ef;border-radius:50%"></div>
<div class="a" style="left:84px;top:808px;width:68px;height:76px;background:#d6cfc2;"></div>
<div class="a" style="left:72px;top:814px;width:93px;height:47px;background:#d3ccbf;"></div>
<div class="a" style="left:75px;top:818px;width:8px;height:40px;background:#c4bdb0;"></div>
<div class="a" style="left:154px;top:818px;width:8px;height:40px;background:#c4bdb0;"></div>
<div class="a" style="left:94px;top:808px;width:18px;height:19px;background:#c8c0b2;"></div>
<div class="a" style="left:86px;top:860px;width:62px;height:14px;background:#cbc3b4;"></div>
<div class="a" style="left:90px;top:875px;width:56px;height:9px;background:#e0dbd1;"></div>
<div class="a" style="left:182.8px;top:808px;width:68px;height:76px;background:#d6cfc2;"></div>
<div class="a" style="left:170.8px;top:814px;width:93px;height:47px;background:#d3ccbf;"></div>
<div class="a" style="left:173.8px;top:818px;width:8px;height:40px;background:#c4bdb0;"></div>
<div class="a" style="left:252.8px;top:818px;width:8px;height:40px;background:#c4bdb0;"></div>
<div class="a" style="left:192.8px;top:808px;width:18px;height:19px;background:#c8c0b2;"></div>
<div class="a" style="left:184.8px;top:860px;width:62px;height:14px;background:#cbc3b4;"></div>
<div class="a" style="left:188.8px;top:875px;width:56px;height:9px;background:#e0dbd1;"></div>
<div class="a" style="left:102.5px;top:874.6px;width:11.5px;height:33.5px;background:#bdbbb5;border-radius:0 0 2px 2px;box-shadow:inset 3px 0 0 #4d4b47,inset -3px 0 0 #4d4b47"></div>
<div class="a" style="left:124px;top:874.6px;width:11.5px;height:33.5px;background:#bdbbb5;border-radius:0 0 2px 2px;box-shadow:inset 3px 0 0 #4d4b47,inset -3px 0 0 #4d4b47"></div>
<div class="a" style="left:201px;top:874.6px;width:11.5px;height:33.5px;background:#bdbbb5;border-radius:0 0 2px 2px;box-shadow:inset 3px 0 0 #4d4b47,inset -3px 0 0 #4d4b47"></div>
<div class="a" style="left:223px;top:874.6px;width:11.5px;height:33.5px;background:#bdbbb5;border-radius:0 0 2px 2px;box-shadow:inset 3px 0 0 #4d4b47,inset -3px 0 0 #4d4b47"></div>
<div class="t" style="left:85px;top:886px;font-size:24px;color:#c7cdcb;font-weight:bold">+</div>
<div class="t" style="left:184px;top:886px;font-size:24px;color:#c7cdcb;font-weight:bold">+</div>
<div class="a" style="left:139px;top:897px;width:9px;height:3.5px;background:#c7cdcb;"></div>
<div class="a" style="left:239px;top:897px;width:9px;height:3.5px;background:#c7cdcb;"></div>
<div class="t" style="left:69.5px;top:910.428px;font-size:21.7px;color:#d2d6d6;letter-spacing:0.5px;transform:scaleX(0.84);transform-origin:left top">5VIN</div>
<div class="t" style="left:198.4px;top:910.428px;font-size:21.7px;color:#d2d6d6;letter-spacing:1px;transform:scaleX(0.76);transform-origin:left top">BATT</div>
<div class="t" style="left:276.5px;top:817.84px;font-size:26px;color:#c9cfcf;letter-spacing:1px;transform:scaleX(0.86);transform-origin:left top">X728&nbsp;&nbsp;V2.3</div>
<div class="t" style="left:447px;top:816.46px;font-size:26.5px;color:#c9cfcf;letter-spacing:0.3px;transform:scaleX(0.857);transform-origin:left top">SupTronics&nbsp;&nbsp;Technologies</div>
<div class="a" style="left:303px;top:860px;width:472px;height:46px;background:#252525;"></div>
<div class="a" style="left:712px;top:852px;width:11px;height:9px;background:transparent;border:2px solid #3c3c3c;border-bottom:none;border-radius:6px 6px 0 0"></div>
<div class="a" style="left:313.0px;top:868.5px;width:9px;height:9px;background:#161616;"></div>
<div class="a" style="left:313.0px;top:891.5px;width:9px;height:9px;background:#161616;"></div>
<div class="a" style="left:319.0px;top:906.5px;width:9.5px;height:28.5px;background:#c5c2ba;border-radius:1px 1px 3px 3px;box-shadow:inset 2.5px 0 0 #5a5853,inset -2.5px 0 0 #5a5853"></div>
<div class="a" style="left:320.0px;top:906.5px;width:7.5px;height:5px;background:#8a8880;"></div>
<div class="a" style="left:330.5px;top:922px;width:9px;height:1.6px;background:#aeb2b1;"></div>
<div class="a" style="left:336.34px;top:868.5px;width:9px;height:9px;background:#161616;"></div>
<div class="a" style="left:336.34px;top:891.5px;width:9px;height:9px;background:#161616;"></div>
<div class="a" style="left:341.5px;top:906.5px;width:9.5px;height:28.5px;background:#c5c2ba;border-radius:1px 1px 3px 3px;box-shadow:inset 2.5px 0 0 #5a5853,inset -2.5px 0 0 #5a5853"></div>
<div class="a" style="left:342.5px;top:906.5px;width:7.5px;height:5px;background:#8a8880;"></div>
<div class="a" style="left:353.0px;top:922px;width:9px;height:1.6px;background:#aeb2b1;"></div>
<div class="a" style="left:359.68px;top:868.5px;width:9px;height:9px;background:#161616;"></div>
<div class="a" style="left:359.68px;top:891.5px;width:9px;height:9px;background:#161616;"></div>
<div class="a" style="left:364.0px;top:906.5px;width:9.5px;height:28.5px;background:#c5c2ba;border-radius:1px 1px 3px 3px;box-shadow:inset 2.5px 0 0 #5a5853,inset -2.5px 0 0 #5a5853"></div>
<div class="a" style="left:365.0px;top:906.5px;width:7.5px;height:5px;background:#8a8880;"></div>
<div class="a" style="left:375.5px;top:922px;width:9px;height:1.6px;background:#aeb2b1;"></div>
<div class="a" style="left:383.02px;top:868.5px;width:9px;height:9px;background:#161616;"></div>
<div class="a" style="left:383.02px;top:891.5px;width:9px;height:9px;background:#161616;"></div>
<div class="a" style="left:386.5px;top:906.5px;width:9.5px;height:28.5px;background:#c5c2ba;border-radius:1px 1px 3px 3px;box-shadow:inset 2.5px 0 0 #5a5853,inset -2.5px 0 0 #5a5853"></div>
<div class="a" style="left:387.5px;top:906.5px;width:7.5px;height:5px;background:#8a8880;"></div>
<div class="a" style="left:398.0px;top:922px;width:9px;height:1.6px;background:#aeb2b1;"></div>
<div class="a" style="left:406.36px;top:868.5px;width:9px;height:9px;background:#161616;"></div>
<div class="a" style="left:406.36px;top:891.5px;width:9px;height:9px;background:#161616;"></div>
<div class="a" style="left:409.0px;top:906.5px;width:9.5px;height:28.5px;background:#c5c2ba;border-radius:1px 1px 3px 3px;box-shadow:inset 2.5px 0 0 #5a5853,inset -2.5px 0 0 #5a5853"></div>
<div class="a" style="left:410.0px;top:906.5px;width:7.5px;height:5px;background:#8a8880;"></div>
<div class="a" style="left:420.5px;top:922px;width:9px;height:1.6px;background:#aeb2b1;"></div>
<div class="a" style="left:429.7px;top:868.5px;width:9px;height:9px;background:#161616;"></div>
<div class="a" style="left:429.7px;top:891.5px;width:9px;height:9px;background:#161616;"></div>
<div class="a" style="left:431.5px;top:906.5px;width:9.5px;height:28.5px;background:#c5c2ba;border-radius:1px 1px 3px 3px;box-shadow:inset 2.5px 0 0 #5a5853,inset -2.5px 0 0 #5a5853"></div>
<div class="a" style="left:432.5px;top:906.5px;width:7.5px;height:5px;background:#8a8880;"></div>
<div class="a" style="left:443.0px;top:922px;width:9px;height:1.6px;background:#aeb2b1;"></div>
<div class="a" style="left:453.03999999999996px;top:868.5px;width:9px;height:9px;background:#161616;"></div>
<div class="a" style="left:453.03999999999996px;top:891.5px;width:9px;height:9px;background:#161616;"></div>
<div class="a" style="left:454.0px;top:906.5px;width:9.5px;height:28.5px;background:#c5c2ba;border-radius:1px 1px 3px 3px;box-shadow:inset 2.5px 0 0 #5a5853,inset -2.5px 0 0 #5a5853"></div>
<div class="a" style="left:455.0px;top:906.5px;width:7.5px;height:5px;background:#8a8880;"></div>
<div class="a" style="left:465.5px;top:922px;width:9px;height:1.6px;background:#aeb2b1;"></div>
<div class="a" style="left:476.38px;top:868.5px;width:9px;height:9px;background:#161616;"></div>
<div class="a" style="left:476.38px;top:891.5px;width:9px;height:9px;background:#161616;"></div>
<div class="a" style="left:476.5px;top:906.5px;width:9.5px;height:28.5px;background:#c5c2ba;border-radius:1px 1px 3px 3px;box-shadow:inset 2.5px 0 0 #5a5853,inset -2.5px 0 0 #5a5853"></div>
<div class="a" style="left:477.5px;top:906.5px;width:7.5px;height:5px;background:#8a8880;"></div>
<div class="a" style="left:488.0px;top:922px;width:9px;height:1.6px;background:#aeb2b1;"></div>
<div class="a" style="left:499.72px;top:868.5px;width:9px;height:9px;background:#161616;"></div>
<div class="a" style="left:499.72px;top:891.5px;width:9px;height:9px;background:#161616;"></div>
<div class="a" style="left:499.0px;top:906.5px;width:9.5px;height:28.5px;background:#c5c2ba;border-radius:1px 1px 3px 3px;box-shadow:inset 2.5px 0 0 #5a5853,inset -2.5px 0 0 #5a5853"></div>
<div class="a" style="left:500.0px;top:906.5px;width:7.5px;height:5px;background:#8a8880;"></div>
<div class="a" style="left:510.5px;top:922px;width:9px;height:1.6px;background:#aeb2b1;"></div>
<div class="a" style="left:523.06px;top:868.5px;width:9px;height:9px;background:#161616;"></div>
<div class="a" style="left:523.06px;top:891.5px;width:9px;height:9px;background:#161616;"></div>
<div class="a" style="left:521.5px;top:906.5px;width:9.5px;height:28.5px;background:#c5c2ba;border-radius:1px 1px 3px 3px;box-shadow:inset 2.5px 0 0 #5a5853,inset -2.5px 0 0 #5a5853"></div>
<div class="a" style="left:522.5px;top:906.5px;width:7.5px;height:5px;background:#8a8880;"></div>
<div class="a" style="left:533.0px;top:922px;width:9px;height:1.6px;background:#aeb2b1;"></div>
<div class="a" style="left:546.4px;top:868.5px;width:9px;height:9px;background:#161616;"></div>
<div class="a" style="left:546.4px;top:891.5px;width:9px;height:9px;background:#161616;"></div>
<div class="a" style="left:544.0px;top:906.5px;width:9.5px;height:28.5px;background:#c5c2ba;border-radius:1px 1px 3px 3px;box-shadow:inset 2.5px 0 0 #5a5853,inset -2.5px 0 0 #5a5853"></div>
<div class="a" style="left:545.0px;top:906.5px;width:7.5px;height:5px;background:#8a8880;"></div>
<div class="a" style="left:555.5px;top:922px;width:9px;height:1.6px;background:#aeb2b1;"></div>
<div class="a" style="left:569.74px;top:868.5px;width:9px;height:9px;background:#161616;"></div>
<div class="a" style="left:569.74px;top:891.5px;width:9px;height:9px;background:#161616;"></div>
<div class="a" style="left:566.5px;top:906.5px;width:9.5px;height:28.5px;background:#c5c2ba;border-radius:1px 1px 3px 3px;box-shadow:inset 2.5px 0 0 #5a5853,inset -2.5px 0 0 #5a5853"></div>
<div class="a" style="left:567.5px;top:906.5px;width:7.5px;height:5px;background:#8a8880;"></div>
<div class="a" style="left:578.0px;top:922px;width:9px;height:1.6px;background:#aeb2b1;"></div>
<div class="a" style="left:593.0799999999999px;top:868.5px;width:9px;height:9px;background:#161616;"></div>
<div class="a" style="left:593.0799999999999px;top:891.5px;width:9px;height:9px;background:#161616;"></div>
<div class="a" style="left:589.0px;top:906.5px;width:9.5px;height:28.5px;background:#c5c2ba;border-radius:1px 1px 3px 3px;box-shadow:inset 2.5px 0 0 #5a5853,inset -2.5px 0 0 #5a5853"></div>
<div class="a" style="left:590.0px;top:906.5px;width:7.5px;height:5px;background:#8a8880;"></div>
<div class="a" style="left:600.5px;top:922px;width:9px;height:1.6px;background:#aeb2b1;"></div>
<div class="a" style="left:616.4200000000001px;top:868.5px;width:9px;height:9px;background:#161616;"></div>
<div class="a" style="left:616.4200000000001px;top:891.5px;width:9px;height:9px;background:#161616;"></div>
<div class="a" style="left:611.5px;top:906.5px;width:9.5px;height:28.5px;background:#c5c2ba;border-radius:1px 1px 3px 3px;box-shadow:inset 2.5px 0 0 #5a5853,inset -2.5px 0 0 #5a5853"></div>
<div class="a" style="left:612.5px;top:906.5px;width:7.5px;height:5px;background:#8a8880;"></div>
<div class="a" style="left:623.0px;top:922px;width:9px;height:1.6px;background:#aeb2b1;"></div>
<div class="a" style="left:639.76px;top:868.5px;width:9px;height:9px;background:#161616;"></div>
<div class="a" style="left:639.76px;top:891.5px;width:9px;height:9px;background:#161616;"></div>
<div class="a" style="left:634.0px;top:906.5px;width:9.5px;height:28.5px;background:#c5c2ba;border-radius:1px 1px 3px 3px;box-shadow:inset 2.5px 0 0 #5a5853,inset -2.5px 0 0 #5a5853"></div>
<div class="a" style="left:635.0px;top:906.5px;width:7.5px;height:5px;background:#8a8880;"></div>
<div class="a" style="left:645.5px;top:922px;width:9px;height:1.6px;background:#aeb2b1;"></div>
<div class="a" style="left:663.1px;top:868.5px;width:9px;height:9px;background:#161616;"></div>
<div class="a" style="left:663.1px;top:891.5px;width:9px;height:9px;background:#161616;"></div>
<div class="a" style="left:656.5px;top:906.5px;width:9.5px;height:28.5px;background:#c5c2ba;border-radius:1px 1px 3px 3px;box-shadow:inset 2.5px 0 0 #5a5853,inset -2.5px 0 0 #5a5853"></div>
<div class="a" style="left:657.5px;top:906.5px;width:7.5px;height:5px;background:#8a8880;"></div>
<div class="a" style="left:668.0px;top:922px;width:9px;height:1.6px;background:#aeb2b1;"></div>
<div class="a" style="left:686.44px;top:868.5px;width:9px;height:9px;background:#161616;"></div>
<div class="a" style="left:686.44px;top:891.5px;width:9px;height:9px;background:#161616;"></div>
<div class="a" style="left:679.0px;top:906.5px;width:9.5px;height:28.5px;background:#c5c2ba;border-radius:1px 1px 3px 3px;box-shadow:inset 2.5px 0 0 #5a5853,inset -2.5px 0 0 #5a5853"></div>
<div class="a" style="left:680.0px;top:906.5px;width:7.5px;height:5px;background:#8a8880;"></div>
<div class="a" style="left:690.5px;top:922px;width:9px;height:1.6px;background:#aeb2b1;"></div>
<div class="a" style="left:709.78px;top:868.5px;width:9px;height:9px;background:#161616;"></div>
<div class="a" style="left:709.78px;top:891.5px;width:9px;height:9px;background:#161616;"></div>
<div class="a" style="left:701.5px;top:906.5px;width:9.5px;height:28.5px;background:#c5c2ba;border-radius:1px 1px 3px 3px;box-shadow:inset 2.5px 0 0 #5a5853,inset -2.5px 0 0 #5a5853"></div>
<div class="a" style="left:702.5px;top:906.5px;width:7.5px;height:5px;background:#8a8880;"></div>
<div class="a" style="left:713.0px;top:922px;width:9px;height:1.6px;background:#aeb2b1;"></div>
<div class="a" style="left:733.12px;top:868.5px;width:9px;height:9px;background:#161616;"></div>
<div class="a" style="left:733.12px;top:891.5px;width:9px;height:9px;background:#161616;"></div>
<div class="a" style="left:724.0px;top:906.5px;width:9.5px;height:28.5px;background:#c5c2ba;border-radius:1px 1px 3px 3px;box-shadow:inset 2.5px 0 0 #5a5853,inset -2.5px 0 0 #5a5853"></div>
<div class="a" style="left:725.0px;top:906.5px;width:7.5px;height:5px;background:#8a8880;"></div>
<div class="a" style="left:735.5px;top:922px;width:9px;height:1.6px;background:#aeb2b1;"></div>
<div class="a" style="left:756.46px;top:868.5px;width:9px;height:9px;background:#161616;"></div>
<div class="a" style="left:756.46px;top:891.5px;width:9px;height:9px;background:#161616;"></div>
<div class="a" style="left:746.5px;top:906.5px;width:9.5px;height:28.5px;background:#c5c2ba;border-radius:1px 1px 3px 3px;box-shadow:inset 2.5px 0 0 #5a5853,inset -2.5px 0 0 #5a5853"></div>
<div class="a" style="left:747.5px;top:906.5px;width:7.5px;height:5px;background:#8a8880;"></div>
<div class="a" style="left:97.4px;top:929px;width:57px;height:39px;background:transparent;"></div>
<div class="a" style="left:102.6px;top:929.3px;width:45.6px;height:38.4px;background:transparent;border:1.5px solid #c6cbcb;"></div>
<div class="a" style="left:105px;top:932px;width:40px;height:33px;background:#1b1b1b;"></div>
<div class="a" style="left:97.4px;top:937.6px;width:7.5px;height:21px;background:#c8c6bf;border-radius:1px;"></div>
<div class="a" style="left:145px;top:937.6px;width:9.5px;height:21px;background:#c8c6bf;border-radius:1px;"></div>
<div class="a" style="left:111px;top:972px;width:29px;height:12.4px;background:#6e5a4c;border-radius:1px"></div>
<div class="a" style="left:111px;top:972px;width:8.120000000000001px;height:12.4px;background:#c3c1ba;"></div>
<div class="a" style="left:131.88px;top:972px;width:8.120000000000001px;height:12.4px;background:#c3c1ba;"></div>
<div class="a" style="left:114px;top:988.5px;width:21.8px;height:9.3px;background:#6e5a4c;border-radius:1px"></div>
<div class="a" style="left:114px;top:988.5px;width:6.104000000000001px;height:9.3px;background:#c3c1ba;"></div>
<div class="a" style="left:129.696px;top:988.5px;width:6.104000000000001px;height:9.3px;background:#c3c1ba;"></div>
<div class="a" style="left:179.4px;top:949px;width:30px;height:30px;background:#1c1c1c;border-radius:50%"></div>
<div class="a" style="left:191px;top:951px;width:5px;height:26px;background:#0e0e0e;"></div>
<div class="a" style="left:101.5px;top:1017.6px;width:33px;height:33px;background:radial-gradient(circle at 45% 40%,#e8e8e6 0%,#b9b9b6 40%,#8a8a87 75%,#5a5a58 100%);border-radius:50%"></div>
<div class="a" style="left:102.5px;top:1187.6px;width:33px;height:33px;background:radial-gradient(circle at 45% 40%,#e8e8e6 0%,#b9b9b6 40%,#8a8a87 75%,#5a5a58 100%);border-radius:50%"></div>
<div class="a" style="left:746.7px;top:1018.4px;width:33px;height:33px;background:radial-gradient(circle at 45% 40%,#e8e8e6 0%,#b9b9b6 40%,#8a8a87 75%,#5a5a58 100%);border-radius:50%"></div>
<div class="a" style="left:746.7px;top:1186px;width:33px;height:33px;background:radial-gradient(circle at 45% 40%,#e8e8e6 0%,#b9b9b6 40%,#8a8a87 75%,#5a5a58 100%);border-radius:50%"></div>
<div class="a" style="left:155.5px;top:1020.7px;width:29px;height:31px;background:transparent;border:1.5px solid #c6cbcb;border-left:none"></div>
<div class="a" style="left:152.5px;top:1032.48px;width:9px;height:7px;background:#c3c1ba;border-radius:1px;"></div>
<div class="a" style="left:176.5px;top:1024.42px;width:9px;height:6px;background:#c3c1ba;border-radius:1px;"></div>
<div class="a" style="left:176.5px;top:1041.78px;width:9px;height:6px;background:#c3c1ba;border-radius:1px;"></div>
<div class="a" style="left:158.6px;top:1005px;width:22.8px;height:8.4px;background:#6e5a4c;border-radius:1px"></div>
<div class="a" style="left:158.6px;top:1005px;width:6.384000000000001px;height:8.4px;background:#c3c1ba;"></div>
<div class="a" style="left:175.016px;top:1005px;width:6.384000000000001px;height:8.4px;background:#c3c1ba;"></div>
<div class="a" style="left:187.7px;top:1024.8px;width:8.3px;height:21.8px;background:#6e5a4c;border-radius:1px"></div>
<div class="a" style="left:187.7px;top:1024.8px;width:8.3px;height:6.104000000000001px;background:#c3c1ba;"></div>
<div class="a" style="left:187.7px;top:1040.4959999999999px;width:8.3px;height:6.104000000000001px;background:#c3c1ba;"></div>
<div class="a" style="left:162.5px;top:1060px;width:21.5px;height:29.3px;background:transparent;border:1.5px solid #c6cbcb;border-left:none"></div>
<div class="a" style="left:159.5px;top:1071.134px;width:9px;height:7px;background:#c3c1ba;border-radius:1px;"></div>
<div class="a" style="left:176.0px;top:1063.516px;width:9px;height:6px;background:#c3c1ba;border-radius:1px;"></div>
<div class="a" style="left:176.0px;top:1079.924px;width:9px;height:6px;background:#c3c1ba;border-radius:1px;"></div>
<div class="a" style="left:145.3px;top:1063px;width:8.7px;height:23.6px;background:#6e5a4c;border-radius:1px"></div>
<div class="a" style="left:145.3px;top:1063px;width:8.7px;height:6.608000000000001px;background:#c3c1ba;"></div>
<div class="a" style="left:145.3px;top:1079.992px;width:8.7px;height:6.608000000000001px;background:#c3c1ba;"></div>
<div class="a" style="left:193.5px;top:1063px;width:8.8px;height:23.6px;background:#6e5a4c;border-radius:1px"></div>
<div class="a" style="left:193.5px;top:1063px;width:8.8px;height:6.608000000000001px;background:#c3c1ba;"></div>
<div class="a" style="left:193.5px;top:1079.992px;width:8.8px;height:6.608000000000001px;background:#c3c1ba;"></div>
<div class="a" style="left:217.8px;top:1014.5px;width:33px;height:31px;background:transparent;border:1.5px solid #c6cbcb;border-left:none"></div>
<div class="a" style="left:214.8px;top:1026.28px;width:9px;height:7px;background:#c3c1ba;border-radius:1px;"></div>
<div class="a" style="left:242.8px;top:1018.22px;width:9px;height:6px;background:#c3c1ba;border-radius:1px;"></div>
<div class="a" style="left:242.8px;top:1035.58px;width:9px;height:6px;background:#c3c1ba;border-radius:1px;"></div>
<div class="a" style="left:217.8px;top:1048.7px;width:33px;height:30px;background:transparent;border:1.5px solid #c6cbcb;border-left:none"></div>
<div class="a" style="left:214.8px;top:1060.1000000000001px;width:9px;height:7px;background:#c3c1ba;border-radius:1px;"></div>
<div class="a" style="left:242.8px;top:1052.3px;width:9px;height:6px;background:#c3c1ba;border-radius:1px;"></div>
<div class="a" style="left:242.8px;top:1069.1000000000001px;width:9px;height:6px;background:#c3c1ba;border-radius:1px;"></div>
<div class="a" style="left:221px;top:1003px;width:21.7px;height:8.3px;background:#6e5a4c;border-radius:1px"></div>
<div class="a" style="left:221px;top:1003px;width:6.0760000000000005px;height:8.3px;background:#c3c1ba;"></div>
<div class="a" style="left:236.624px;top:1003px;width:6.0760000000000005px;height:8.3px;background:#c3c1ba;"></div>
<div class="a" style="left:253px;top:1048px;width:9.4px;height:23px;background:#6e5a4c;border-radius:1px"></div>
<div class="a" style="left:253px;top:1048px;width:9.4px;height:6.44px;background:#c3c1ba;"></div>
<div class="a" style="left:253px;top:1064.56px;width:9.4px;height:6.44px;background:#c3c1ba;"></div>
<div class="a" style="left:239.6px;top:1081px;width:22.8px;height:9px;background:#6e5a4c;border-radius:1px"></div>
<div class="a" style="left:239.6px;top:1081px;width:6.384000000000001px;height:9px;background:#c3c1ba;"></div>
<div class="a" style="left:256.01599999999996px;top:1081px;width:6.384000000000001px;height:9px;background:#c3c1ba;"></div>
<div class="a" style="left:234.4px;top:985.4px;width:28px;height:13.5px;background:#6e5a4c;border-radius:1px"></div>
<div class="a" style="left:234.4px;top:985.4px;width:7.840000000000001px;height:13.5px;background:#c3c1ba;"></div>
<div class="a" style="left:254.55999999999997px;top:985.4px;width:7.840000000000001px;height:13.5px;background:#c3c1ba;"></div>
<div class="a" style="left:268.6px;top:986.4px;width:13px;height:28px;background:#6e5a4c;border-radius:1px"></div>
<div class="a" style="left:268.6px;top:986.4px;width:13px;height:7.840000000000001px;background:#c3c1ba;"></div>
<div class="a" style="left:268.6px;top:1006.56px;width:13px;height:7.840000000000001px;background:#c3c1ba;"></div>
<div class="a" style="left:286.3px;top:986.4px;width:13px;height:28px;background:#6e5a4c;border-radius:1px"></div>
<div class="a" style="left:286.3px;top:986.4px;width:13px;height:7.840000000000001px;background:#c3c1ba;"></div>
<div class="a" style="left:286.3px;top:1006.56px;width:13px;height:7.840000000000001px;background:#c3c1ba;"></div>
<div class="a" style="left:304px;top:986.4px;width:13px;height:28px;background:#6e5a4c;border-radius:1px"></div>
<div class="a" style="left:304px;top:986.4px;width:13px;height:7.840000000000001px;background:#c3c1ba;"></div>
<div class="a" style="left:304px;top:1006.56px;width:13px;height:7.840000000000001px;background:#c3c1ba;"></div>
<div class="a" style="left:321.6px;top:986.4px;width:13px;height:28px;background:#6e5a4c;border-radius:1px"></div>
<div class="a" style="left:321.6px;top:986.4px;width:13px;height:7.840000000000001px;background:#c3c1ba;"></div>
<div class="a" style="left:321.6px;top:1006.56px;width:13px;height:7.840000000000001px;background:#c3c1ba;"></div>
<div class="a" style="left:280px;top:1030px;width:44.7px;height:44.7px;background:#1e1e1e;border-radius:2px"></div>
<div class="a" style="left:282.2px;top:1025px;width:1.6px;height:4px;background:#c3c1ba;"></div>
<div class="a" style="left:282.2px;top:1075.7px;width:1.6px;height:4px;background:#c3c1ba;"></div>
<div class="a" style="left:275px;top:1032.2px;width:4px;height:1.6px;background:#c3c1ba;"></div>
<div class="a" style="left:325.7px;top:1032.2px;width:4px;height:1.6px;background:#c3c1ba;"></div>
<div class="a" style="left:287.7285714285714px;top:1025px;width:1.6px;height:4px;background:#c3c1ba;"></div>
<div class="a" style="left:287.7285714285714px;top:1075.7px;width:1.6px;height:4px;background:#c3c1ba;"></div>
<div class="a" style="left:275px;top:1037.7285714285715px;width:4px;height:1.6px;background:#c3c1ba;"></div>
<div class="a" style="left:325.7px;top:1037.7285714285715px;width:4px;height:1.6px;background:#c3c1ba;"></div>
<div class="a" style="left:293.25714285714287px;top:1025px;width:1.6px;height:4px;background:#c3c1ba;"></div>
<div class="a" style="left:293.25714285714287px;top:1075.7px;width:1.6px;height:4px;background:#c3c1ba;"></div>
<div class="a" style="left:275px;top:1043.257142857143px;width:4px;height:1.6px;background:#c3c1ba;"></div>
<div class="a" style="left:325.7px;top:1043.257142857143px;width:4px;height:1.6px;background:#c3c1ba;"></div>
<div class="a" style="left:298.7857142857143px;top:1025px;width:1.6px;height:4px;background:#c3c1ba;"></div>
<div class="a" style="left:298.7857142857143px;top:1075.7px;width:1.6px;height:4px;background:#c3c1ba;"></div>
<div class="a" style="left:275px;top:1048.7857142857144px;width:4px;height:1.6px;background:#c3c1ba;"></div>
<div class="a" style="left:325.7px;top:1048.7857142857144px;width:4px;height:1.6px;background:#c3c1ba;"></div>
<div class="a" style="left:304.3142857142857px;top:1025px;width:1.6px;height:4px;background:#c3c1ba;"></div>
<div class="a" style="left:304.3142857142857px;top:1075.7px;width:1.6px;height:4px;background:#c3c1ba;"></div>
<div class="a" style="left:275px;top:1054.3142857142857px;width:4px;height:1.6px;background:#c3c1ba;"></div>
<div class="a" style="left:325.7px;top:1054.3142857142857px;width:4px;height:1.6px;background:#c3c1ba;"></div>
<div class="a" style="left:309.84285714285716px;top:1025px;width:1.6px;height:4px;background:#c3c1ba;"></div>
<div class="a" style="left:309.84285714285716px;top:1075.7px;width:1.6px;height:4px;background:#c3c1ba;"></div>
<div class="a" style="left:275px;top:1059.8428571428572px;width:4px;height:1.6px;background:#c3c1ba;"></div>
<div class="a" style="left:325.7px;top:1059.8428571428572px;width:4px;height:1.6px;background:#c3c1ba;"></div>
<div class="a" style="left:315.37142857142857px;top:1025px;width:1.6px;height:4px;background:#c3c1ba;"></div>
<div class="a" style="left:315.37142857142857px;top:1075.7px;width:1.6px;height:4px;background:#c3c1ba;"></div>
<div class="a" style="left:275px;top:1065.3714285714286px;width:4px;height:1.6px;background:#c3c1ba;"></div>
<div class="a" style="left:325.7px;top:1065.3714285714286px;width:4px;height:1.6px;background:#c3c1ba;"></div>
<div class="a" style="left:320.9px;top:1025px;width:1.6px;height:4px;background:#c3c1ba;"></div>
<div class="a" style="left:320.9px;top:1075.7px;width:1.6px;height:4px;background:#c3c1ba;"></div>
<div class="a" style="left:275px;top:1070.9px;width:4px;height:1.6px;background:#c3c1ba;"></div>
<div class="a" style="left:325.7px;top:1070.9px;width:4px;height:1.6px;background:#c3c1ba;"></div>
<div class="a" style="left:274px;top:1074px;width:7px;height:7px;background:transparent;border:1.5px solid #c8c8c4;border-radius:50%"></div>
<div class="a" style="left:306px;top:1088px;width:9.3px;height:22px;background:#6e5a4c;border-radius:1px"></div>
<div class="a" style="left:306px;top:1088px;width:9.3px;height:6.16px;background:#c3c1ba;"></div>
<div class="a" style="left:306px;top:1103.84px;width:9.3px;height:6.16px;background:#c3c1ba;"></div>
<div class="a" style="left:104.3px;top:1070px;width:22.7px;height:36.5px;background:#1e1e1e;border-radius:1px"></div>
<div class="a" style="left:104.3px;top:1070.5px;width:22.7px;height:8.5px;background:#c9c7c0;border-radius:1px;"></div>
<div class="a" style="left:104.3px;top:1097.5px;width:22.7px;height:8.5px;background:#c9c7c0;border-radius:1px;"></div>
<div class="t" style="left:124px;top:1081.5px;font-size:13px;color:#d8d8d4;font-weight:bold;transform:rotate(90deg);transform-origin:left top;letter-spacing:0px">e9</div>
<div class="a" style="left:104.3px;top:1132px;width:22.7px;height:36.5px;background:#1e1e1e;border-radius:1px"></div>
<div class="a" style="left:104.3px;top:1132.5px;width:22.7px;height:8.5px;background:#c9c7c0;border-radius:1px;"></div>
<div class="a" style="left:104.3px;top:1159.5px;width:22.7px;height:8.5px;background:#c9c7c0;border-radius:1px;"></div>
<div class="t" style="left:124px;top:1143.5px;font-size:13px;color:#d8d8d4;font-weight:bold;transform:rotate(90deg);transform-origin:left top;letter-spacing:0px">e9</div>
<div class="a" style="left:81.6px;top:1077px;width:8.9px;height:22px;background:#6e5a4c;border-radius:1px"></div>
<div class="a" style="left:81.6px;top:1077px;width:8.9px;height:6.16px;background:#c3c1ba;"></div>
<div class="a" style="left:81.6px;top:1092.84px;width:8.9px;height:6.16px;background:#c3c1ba;"></div>
<div class="a" style="left:347.4px;top:999.4px;width:103.6px;height:94px;background:transparent;border:1.6px solid #c6cbcb;"></div>
<div class="a" style="left:341.6px;top:1028.5px;width:12px;height:36px;background:#c3c0b8;border-radius:1px;"></div>
<div class="a" style="left:443.4px;top:1028.5px;width:12.6px;height:36px;background:#c3c0b8;border-radius:1px;"></div>
<div class="a" style="left:352.3px;top:998px;width:90px;height:89.6px;background:#6c6864;border-radius:8px;box-shadow:inset 0 0 3px #4a4744"></div>
<div class="t" style="left:374.0px;top:1019.62px;font-size:48px;color:#2a2826;transform:scaleX(0.56);transform-origin:left top;letter-spacing:0px;-webkit-text-stroke:0.3px #2a2826">2R2</div>
<div class="a" style="left:625px;top:976.5px;width:103.2px;height:94px;background:transparent;border:1.6px solid #c6cbcb;"></div>
<div class="a" style="left:618.7px;top:1005.5px;width:12px;height:36px;background:#c3c0b8;border-radius:1px;"></div>
<div class="a" style="left:721.4px;top:1005.5px;width:12.6px;height:36px;background:#c3c0b8;border-radius:1px;"></div>
<div class="a" style="left:632.3px;top:977px;width:89px;height:90px;background:#6c6864;border-radius:8px;box-shadow:inset 0 0 3px #4a4744"></div>
<div class="t" style="left:654.0px;top:995.82px;font-size:48px;color:#2a2826;transform:scaleX(0.56);transform-origin:left top;letter-spacing:0px;-webkit-text-stroke:0.3px #2a2826">2R2</div>
<div class="a" style="left:496.7px;top:961.5px;width:22.3px;height:29.5px;background:transparent;border:1.5px solid #c6cbcb;border-right:none"></div>
<div class="a" style="left:513.0px;top:972.71px;width:9px;height:7px;background:#c3c1ba;border-radius:1px;"></div>
<div class="a" style="left:495.7px;top:965.04px;width:9px;height:6px;background:#c3c1ba;border-radius:1px;"></div>
<div class="a" style="left:495.7px;top:981.56px;width:9px;height:6px;background:#c3c1ba;border-radius:1px;"></div>
<div class="a" style="left:533px;top:948px;width:5px;height:3px;background:#c3c1ba;"></div>
<div class="a" style="left:533px;top:955px;width:5px;height:3px;background:#c3c1ba;"></div>
<div class="a" style="left:533px;top:991px;width:6px;height:14.6px;background:#6e5a4c;border-radius:1px"></div>
<div class="a" style="left:533px;top:991px;width:6px;height:4.088px;background:#c3c1ba;"></div>
<div class="a" style="left:533px;top:1001.5120000000001px;width:6px;height:4.088px;background:#c3c1ba;"></div>
<div class="a" style="left:544.4px;top:948px;width:5px;height:3px;background:#c3c1ba;"></div>
<div class="a" style="left:544.4px;top:955px;width:5px;height:3px;background:#c3c1ba;"></div>
<div class="a" style="left:544.4px;top:991px;width:6px;height:14.6px;background:#6e5a4c;border-radius:1px"></div>
<div class="a" style="left:544.4px;top:991px;width:6px;height:4.088px;background:#c3c1ba;"></div>
<div class="a" style="left:544.4px;top:1001.5120000000001px;width:6px;height:4.088px;background:#c3c1ba;"></div>
<div class="a" style="left:555px;top:948px;width:5px;height:3px;background:#c3c1ba;"></div>
<div class="a" style="left:555px;top:955px;width:5px;height:3px;background:#c3c1ba;"></div>
<div class="a" style="left:555px;top:991px;width:6px;height:14.6px;background:#6e5a4c;border-radius:1px"></div>
<div class="a" style="left:555px;top:991px;width:6px;height:4.088px;background:#c3c1ba;"></div>
<div class="a" style="left:555px;top:1001.5120000000001px;width:6px;height:4.088px;background:#c3c1ba;"></div>
<div class="a" style="left:566px;top:948px;width:5px;height:3px;background:#c3c1ba;"></div>
<div class="a" style="left:566px;top:955px;width:5px;height:3px;background:#c3c1ba;"></div>
<div class="a" style="left:566px;top:991px;width:6px;height:14.6px;background:#6e5a4c;border-radius:1px"></div>
<div class="a" style="left:566px;top:991px;width:6px;height:4.088px;background:#c3c1ba;"></div>
<div class="a" style="left:566px;top:1001.5120000000001px;width:6px;height:4.088px;background:#c3c1ba;"></div>
<div class="a" style="left:504.8px;top:996.6px;width:19px;height:8px;background:#6e5a4c;border-radius:1px"></div>
<div class="a" style="left:504.8px;top:996.6px;width:5.32px;height:8px;background:#c3c1ba;"></div>
<div class="a" style="left:518.4799999999999px;top:996.6px;width:5.32px;height:8px;background:#c3c1ba;"></div>
<div class="a" style="left:512px;top:1009px;width:43px;height:23.5px;background:#4b3f37;border-radius:3px"></div>
<div class="a" style="left:512px;top:1009px;width:8px;height:23.5px;background:#cbc8c1;border-radius:1px;border-radius:4px 0 0 4px"></div>
<div class="a" style="left:547px;top:1009px;width:8px;height:23.5px;background:#cbc8c1;border-radius:1px;border-radius:0 4px 4px 0"></div>
<div class="a" style="left:512px;top:1038px;width:43px;height:23.5px;background:#4b3f37;border-radius:3px"></div>
<div class="a" style="left:512px;top:1038px;width:8px;height:23.5px;background:#cbc8c1;border-radius:1px;border-radius:4px 0 0 4px"></div>
<div class="a" style="left:547px;top:1038px;width:8px;height:23.5px;background:#cbc8c1;border-radius:1px;border-radius:0 4px 4px 0"></div>
<div class="a" style="left:562px;top:1036px;width:36px;height:34px;background:#202020;"></div>
<div class="a" style="left:560px;top:1038.0px;width:2px;height:2px;background:#c3c1ba;"></div>
<div class="a" style="left:598px;top:1038.0px;width:2px;height:2px;background:#c3c1ba;"></div>
<div class="a" style="left:560px;top:1042.5px;width:2px;height:2px;background:#c3c1ba;"></div>
<div class="a" style="left:598px;top:1042.5px;width:2px;height:2px;background:#c3c1ba;"></div>
<div class="a" style="left:560px;top:1047.0px;width:2px;height:2px;background:#c3c1ba;"></div>
<div class="a" style="left:598px;top:1047.0px;width:2px;height:2px;background:#c3c1ba;"></div>
<div class="a" style="left:560px;top:1051.5px;width:2px;height:2px;background:#c3c1ba;"></div>
<div class="a" style="left:598px;top:1051.5px;width:2px;height:2px;background:#c3c1ba;"></div>
<div class="a" style="left:560px;top:1056.0px;width:2px;height:2px;background:#c3c1ba;"></div>
<div class="a" style="left:598px;top:1056.0px;width:2px;height:2px;background:#c3c1ba;"></div>
<div class="a" style="left:560px;top:1060.5px;width:2px;height:2px;background:#c3c1ba;"></div>
<div class="a" style="left:598px;top:1060.5px;width:2px;height:2px;background:#c3c1ba;"></div>
<div class="a" style="left:560px;top:1065.0px;width:2px;height:2px;background:#c3c1ba;"></div>
<div class="a" style="left:598px;top:1065.0px;width:2px;height:2px;background:#c3c1ba;"></div>
<div class="a" style="left:586.6px;top:1003.8px;width:8px;height:22.5px;background:#6e5a4c;border-radius:1px"></div>
<div class="a" style="left:586.6px;top:1003.8px;width:8px;height:6.300000000000001px;background:#c3c1ba;"></div>
<div class="a" style="left:586.6px;top:1020.0px;width:8px;height:6.300000000000001px;background:#c3c1ba;"></div>
<div class="a" style="left:592px;top:993px;width:21.6px;height:8px;background:#6e5a4c;border-radius:1px"></div>
<div class="a" style="left:592px;top:993px;width:6.048000000000001px;height:8px;background:#c3c1ba;"></div>
<div class="a" style="left:607.552px;top:993px;width:6.048000000000001px;height:8px;background:#c3c1ba;"></div>
<div class="a" style="left:605.5px;top:1027px;width:8px;height:21px;background:#6e5a4c;border-radius:1px"></div>
<div class="a" style="left:605.5px;top:1027px;width:8px;height:5.880000000000001px;background:#c3c1ba;"></div>
<div class="a" style="left:605.5px;top:1042.12px;width:8px;height:5.880000000000001px;background:#c3c1ba;"></div>
<div class="a" style="left:605.5px;top:1050.5px;width:8px;height:23.5px;background:#6e5a4c;border-radius:1px"></div>
<div class="a" style="left:605.5px;top:1050.5px;width:8px;height:6.580000000000001px;background:#c3c1ba;"></div>
<div class="a" style="left:605.5px;top:1067.42px;width:8px;height:6.580000000000001px;background:#c3c1ba;"></div>
<div class="a" style="left:508px;top:1069.4px;width:9px;height:21.6px;background:#6e5a4c;border-radius:1px"></div>
<div class="a" style="left:508px;top:1069.4px;width:9px;height:6.048000000000001px;background:#c3c1ba;"></div>
<div class="a" style="left:508px;top:1084.952px;width:9px;height:6.048000000000001px;background:#c3c1ba;"></div>
<div class="a" style="left:522px;top:1069.4px;width:9px;height:21.6px;background:#6e5a4c;border-radius:1px"></div>
<div class="a" style="left:522px;top:1069.4px;width:9px;height:6.048000000000001px;background:#c3c1ba;"></div>
<div class="a" style="left:522px;top:1084.952px;width:9px;height:6.048000000000001px;background:#c3c1ba;"></div>
<div class="a" style="left:535px;top:1069.4px;width:9px;height:21.6px;background:#6e5a4c;border-radius:1px"></div>
<div class="a" style="left:535px;top:1069.4px;width:9px;height:6.048000000000001px;background:#c3c1ba;"></div>
<div class="a" style="left:535px;top:1084.952px;width:9px;height:6.048000000000001px;background:#c3c1ba;"></div>
<div class="a" style="left:549px;top:1069.4px;width:9px;height:21.6px;background:#6e5a4c;border-radius:1px"></div>
<div class="a" style="left:549px;top:1069.4px;width:9px;height:6.048000000000001px;background:#c3c1ba;"></div>
<div class="a" style="left:549px;top:1084.952px;width:9px;height:6.048000000000001px;background:#c3c1ba;"></div>
<div class="a" style="left:562px;top:1081px;width:8.4px;height:21.7px;background:#6e5a4c;border-radius:1px"></div>
<div class="a" style="left:562px;top:1081px;width:8.4px;height:6.0760000000000005px;background:#c3c1ba;"></div>
<div class="a" style="left:562px;top:1096.624px;width:8.4px;height:6.0760000000000005px;background:#c3c1ba;"></div>
<div class="a" style="left:583px;top:1081px;width:9px;height:21.7px;background:#6e5a4c;border-radius:1px"></div>
<div class="a" style="left:583px;top:1081px;width:9px;height:6.0760000000000005px;background:#c3c1ba;"></div>
<div class="a" style="left:583px;top:1096.624px;width:9px;height:6.0760000000000005px;background:#c3c1ba;"></div>
<div class="a" style="left:535px;top:1094.6px;width:22px;height:9px;background:#6e5a4c;border-radius:1px"></div>
<div class="a" style="left:535px;top:1094.6px;width:6.16px;height:9px;background:#c3c1ba;"></div>
<div class="a" style="left:550.84px;top:1094.6px;width:6.16px;height:9px;background:#c3c1ba;"></div>
<div class="a" style="left:656px;top:944.4px;width:14px;height:28.8px;background:#6e5a4c;border-radius:1px"></div>
<div class="a" style="left:656px;top:944.4px;width:14px;height:8.064000000000002px;background:#c3c1ba;"></div>
<div class="a" style="left:656px;top:965.136px;width:14px;height:8.064000000000002px;background:#c3c1ba;"></div>
<div class="a" style="left:674px;top:944.4px;width:13.4px;height:28.8px;background:#6e5a4c;border-radius:1px"></div>
<div class="a" style="left:674px;top:944.4px;width:13.4px;height:8.064000000000002px;background:#c3c1ba;"></div>
<div class="a" style="left:674px;top:965.136px;width:13.4px;height:8.064000000000002px;background:#c3c1ba;"></div>
<div class="a" style="left:697px;top:1079.4px;width:68.6px;height:57.3px;background:transparent;border:1.5px solid #c6cbcb;"></div>
<div class="a" style="left:705px;top:1082.4px;width:52.599999999999994px;height:51.3px;background:#1b1b1b;"></div>
<div class="a" style="left:700px;top:1083.9px;width:7px;height:5px;background:#c3c1ba;border-radius:1px;"></div>
<div class="a" style="left:755.6px;top:1083.9px;width:7px;height:5px;background:#c3c1ba;border-radius:1px;"></div>
<div class="a" style="left:700px;top:1098.3333333333335px;width:7px;height:5px;background:#c3c1ba;border-radius:1px;"></div>
<div class="a" style="left:755.6px;top:1098.3333333333335px;width:7px;height:5px;background:#c3c1ba;border-radius:1px;"></div>
<div class="a" style="left:700px;top:1112.7666666666667px;width:7px;height:5px;background:#c3c1ba;border-radius:1px;"></div>
<div class="a" style="left:755.6px;top:1112.7666666666667px;width:7px;height:5px;background:#c3c1ba;border-radius:1px;"></div>
<div class="a" style="left:700px;top:1127.2px;width:7px;height:5px;background:#c3c1ba;border-radius:1px;"></div>
<div class="a" style="left:755.6px;top:1127.2px;width:7px;height:5px;background:#c3c1ba;border-radius:1px;"></div>
<div class="a" style="left:669.7px;top:1144px;width:66.8px;height:56.6px;background:transparent;border:1.5px solid #c6cbcb;"></div>
<div class="a" style="left:677.7px;top:1147px;width:50.8px;height:50.6px;background:#1b1b1b;"></div>
<div class="a" style="left:672.7px;top:1148.5px;width:7px;height:5px;background:#c3c1ba;border-radius:1px;"></div>
<div class="a" style="left:726.5px;top:1148.5px;width:7px;height:5px;background:#c3c1ba;border-radius:1px;"></div>
<div class="a" style="left:672.7px;top:1162.7px;width:7px;height:5px;background:#c3c1ba;border-radius:1px;"></div>
<div class="a" style="left:726.5px;top:1162.7px;width:7px;height:5px;background:#c3c1ba;border-radius:1px;"></div>
<div class="a" style="left:672.7px;top:1176.9px;width:7px;height:5px;background:#c3c1ba;border-radius:1px;"></div>
<div class="a" style="left:726.5px;top:1176.9px;width:7px;height:5px;background:#c3c1ba;border-radius:1px;"></div>
<div class="a" style="left:672.7px;top:1191.1px;width:7px;height:5px;background:#c3c1ba;border-radius:1px;"></div>
<div class="a" style="left:726.5px;top:1191.1px;width:7px;height:5px;background:#c3c1ba;border-radius:1px;"></div>
<div class="a" style="left:768.5px;top:1084px;width:10px;height:22px;background:#6e5a4c;border-radius:1px"></div>
<div class="a" style="left:768.5px;top:1084px;width:10px;height:6.16px;background:#c3c1ba;"></div>
<div class="a" style="left:768.5px;top:1099.84px;width:10px;height:6.16px;background:#c3c1ba;"></div>
<div class="a" style="left:768.5px;top:1110px;width:10px;height:22px;background:#6e5a4c;border-radius:1px"></div>
<div class="a" style="left:768.5px;top:1110px;width:10px;height:6.16px;background:#c3c1ba;"></div>
<div class="a" style="left:768.5px;top:1125.84px;width:10px;height:6.16px;background:#c3c1ba;"></div>
<div class="a" style="left:768.5px;top:1150px;width:10px;height:20px;background:#6e5a4c;border-radius:1px"></div>
<div class="a" style="left:768.5px;top:1150px;width:10px;height:5.6000000000000005px;background:#c3c1ba;"></div>
<div class="a" style="left:768.5px;top:1164.4px;width:10px;height:5.6000000000000005px;background:#c3c1ba;"></div>
<div class="a" style="left:743.8px;top:1150px;width:10px;height:20px;background:#6e5a4c;border-radius:1px"></div>
<div class="a" style="left:743.8px;top:1150px;width:10px;height:5.6000000000000005px;background:#c3c1ba;"></div>
<div class="a" style="left:743.8px;top:1164.4px;width:10px;height:5.6000000000000005px;background:#c3c1ba;"></div>
<div class="a" style="left:755px;top:1150px;width:10px;height:20px;background:#6e5a4c;border-radius:1px"></div>
<div class="a" style="left:755px;top:1150px;width:10px;height:5.6000000000000005px;background:#c3c1ba;"></div>
<div class="a" style="left:755px;top:1164.4px;width:10px;height:5.6000000000000005px;background:#c3c1ba;"></div>
<div class="a" style="left:770px;top:1063px;width:8.7px;height:22px;background:#6e5a4c;border-radius:1px"></div>
<div class="a" style="left:770px;top:1063px;width:8.7px;height:6.16px;background:#c3c1ba;"></div>
<div class="a" style="left:770px;top:1078.84px;width:8.7px;height:6.16px;background:#c3c1ba;"></div>
<div class="a" style="left:546px;top:1135px;width:27.7px;height:31px;background:#1f1f1f;"></div>
<div class="a" style="left:549px;top:1133px;width:2px;height:2px;background:#c3c1ba;"></div>
<div class="a" style="left:549px;top:1166px;width:2px;height:2px;background:#c3c1ba;"></div>
<div class="a" style="left:555px;top:1133px;width:2px;height:2px;background:#c3c1ba;"></div>
<div class="a" style="left:555px;top:1166px;width:2px;height:2px;background:#c3c1ba;"></div>
<div class="a" style="left:561px;top:1133px;width:2px;height:2px;background:#c3c1ba;"></div>
<div class="a" style="left:561px;top:1166px;width:2px;height:2px;background:#c3c1ba;"></div>
<div class="a" style="left:567px;top:1133px;width:2px;height:2px;background:#c3c1ba;"></div>
<div class="a" style="left:567px;top:1166px;width:2px;height:2px;background:#c3c1ba;"></div>
<div class="a" style="left:617.3px;top:1135px;width:27.7px;height:31px;background:#1f1f1f;"></div>
<div class="a" style="left:620.3px;top:1133px;width:2px;height:2px;background:#c3c1ba;"></div>
<div class="a" style="left:620.3px;top:1166px;width:2px;height:2px;background:#c3c1ba;"></div>
<div class="a" style="left:626.3px;top:1133px;width:2px;height:2px;background:#c3c1ba;"></div>
<div class="a" style="left:626.3px;top:1166px;width:2px;height:2px;background:#c3c1ba;"></div>
<div class="a" style="left:632.3px;top:1133px;width:2px;height:2px;background:#c3c1ba;"></div>
<div class="a" style="left:632.3px;top:1166px;width:2px;height:2px;background:#c3c1ba;"></div>
<div class="a" style="left:638.3px;top:1133px;width:2px;height:2px;background:#c3c1ba;"></div>
<div class="a" style="left:638.3px;top:1166px;width:2px;height:2px;background:#c3c1ba;"></div>
<div class="a" style="left:528.7px;top:1197.7px;width:7px;height:23.3px;background:#6e5a4c;border-radius:1px"></div>
<div class="a" style="left:528.7px;top:1197.7px;width:7px;height:6.524000000000001px;background:#c3c1ba;"></div>
<div class="a" style="left:528.7px;top:1214.476px;width:7px;height:6.524000000000001px;background:#c3c1ba;"></div>
<div class="a" style="left:544.7px;top:1197.7px;width:7px;height:23.3px;background:#6e5a4c;border-radius:1px"></div>
<div class="a" style="left:544.7px;top:1197.7px;width:7px;height:6.524000000000001px;background:#c3c1ba;"></div>
<div class="a" style="left:544.7px;top:1214.476px;width:7px;height:6.524000000000001px;background:#c3c1ba;"></div>
<div class="a" style="left:564.7px;top:1197.7px;width:7px;height:23.3px;background:#6e5a4c;border-radius:1px"></div>
<div class="a" style="left:564.7px;top:1197.7px;width:7px;height:6.524000000000001px;background:#c3c1ba;"></div>
<div class="a" style="left:564.7px;top:1214.476px;width:7px;height:6.524000000000001px;background:#c3c1ba;"></div>
<div class="a" style="left:574.7px;top:1197.7px;width:7px;height:23.3px;background:#6e5a4c;border-radius:1px"></div>
<div class="a" style="left:574.7px;top:1197.7px;width:7px;height:6.524000000000001px;background:#c3c1ba;"></div>
<div class="a" style="left:574.7px;top:1214.476px;width:7px;height:6.524000000000001px;background:#c3c1ba;"></div>
<div class="a" style="left:607px;top:1197.7px;width:7px;height:23.3px;background:#6e5a4c;border-radius:1px"></div>
<div class="a" style="left:607px;top:1197.7px;width:7px;height:6.524000000000001px;background:#c3c1ba;"></div>
<div class="a" style="left:607px;top:1214.476px;width:7px;height:6.524000000000001px;background:#c3c1ba;"></div>
<div class="a" style="left:623px;top:1197.7px;width:7px;height:23.3px;background:#6e5a4c;border-radius:1px"></div>
<div class="a" style="left:623px;top:1197.7px;width:7px;height:6.524000000000001px;background:#c3c1ba;"></div>
<div class="a" style="left:623px;top:1214.476px;width:7px;height:6.524000000000001px;background:#c3c1ba;"></div>
<div class="a" style="left:643px;top:1197.7px;width:7px;height:23.3px;background:#6e5a4c;border-radius:1px"></div>
<div class="a" style="left:643px;top:1197.7px;width:7px;height:6.524000000000001px;background:#c3c1ba;"></div>
<div class="a" style="left:643px;top:1214.476px;width:7px;height:6.524000000000001px;background:#c3c1ba;"></div>
<div class="a" style="left:653px;top:1197.7px;width:7px;height:23.3px;background:#6e5a4c;border-radius:1px"></div>
<div class="a" style="left:653px;top:1197.7px;width:7px;height:6.524000000000001px;background:#c3c1ba;"></div>
<div class="a" style="left:653px;top:1214.476px;width:7px;height:6.524000000000001px;background:#c3c1ba;"></div>
<div class="a" style="left:181px;top:1101.5px;width:29.6px;height:42.5px;background:transparent;border:1.6px solid #c6cbcb;border-left:none"></div>
<div class="a" style="left:183px;top:1104px;width:18px;height:38px;background:#1c1c1c;"></div>
<div class="a" style="left:170px;top:1105px;width:12.4px;height:9px;background:#c3c1ba;border-radius:1px;"></div>
<div class="a" style="left:170px;top:1118.7px;width:12.4px;height:9px;background:#c3c1ba;border-radius:1px;"></div>
<div class="a" style="left:170px;top:1131px;width:12.4px;height:9px;background:#c3c1ba;border-radius:1px;"></div>
<div class="a" style="left:202.3px;top:1113px;width:15px;height:19px;background:#c8c6bf;border-radius:1px;border-radius:2px"></div>
<div class="a" style="left:145.9px;top:1105.4px;width:8.3px;height:22px;background:#6e5a4c;border-radius:1px"></div>
<div class="a" style="left:145.9px;top:1105.4px;width:8.3px;height:6.16px;background:#c3c1ba;"></div>
<div class="a" style="left:145.9px;top:1121.24px;width:8.3px;height:6.16px;background:#c3c1ba;"></div>
<div class="a" style="left:158.6px;top:1118.7px;width:8.9px;height:22.3px;background:#6e5a4c;border-radius:1px"></div>
<div class="a" style="left:158.6px;top:1118.7px;width:8.9px;height:6.244000000000001px;background:#c3c1ba;"></div>
<div class="a" style="left:158.6px;top:1134.756px;width:8.9px;height:6.244000000000001px;background:#c3c1ba;"></div>
<div class="a" style="left:149.7px;top:1148.6px;width:23.3px;height:29.4px;background:transparent;border:1.5px solid #c6cbcb;border-left:none"></div>
<div class="a" style="left:146.7px;top:1159.772px;width:9px;height:7px;background:#c3c1ba;border-radius:1px;"></div>
<div class="a" style="left:165.0px;top:1152.128px;width:9px;height:6px;background:#c3c1ba;border-radius:1px;"></div>
<div class="a" style="left:165.0px;top:1168.5919999999999px;width:9px;height:6px;background:#c3c1ba;border-radius:1px;"></div>
<div class="a" style="left:180.7px;top:1153px;width:9.3px;height:21.6px;background:#6e5a4c;border-radius:1px"></div>
<div class="a" style="left:180.7px;top:1153px;width:9.3px;height:6.048000000000001px;background:#c3c1ba;"></div>
<div class="a" style="left:180.7px;top:1168.552px;width:9.3px;height:6.048000000000001px;background:#c3c1ba;"></div>
<div class="a" style="left:194.6px;top:1153px;width:8.9px;height:21.6px;background:#6e5a4c;border-radius:1px"></div>
<div class="a" style="left:194.6px;top:1153px;width:8.9px;height:6.048000000000001px;background:#c3c1ba;"></div>
<div class="a" style="left:194.6px;top:1168.552px;width:8.9px;height:6.048000000000001px;background:#c3c1ba;"></div>
<div class="a" style="left:149.7px;top:1193.5px;width:30.6px;height:53.5px;background:#1b1b1b;"></div>
<div class="a" style="left:144.7px;top:1195.0px;width:7px;height:5px;background:#c3c1ba;border-radius:1px;"></div>
<div class="a" style="left:178.29999999999998px;top:1195.0px;width:7px;height:5px;background:#c3c1ba;border-radius:1px;"></div>
<div class="a" style="left:144.7px;top:1210.1666666666667px;width:7px;height:5px;background:#c3c1ba;border-radius:1px;"></div>
<div class="a" style="left:178.29999999999998px;top:1210.1666666666667px;width:7px;height:5px;background:#c3c1ba;border-radius:1px;"></div>
<div class="a" style="left:144.7px;top:1225.3333333333333px;width:7px;height:5px;background:#c3c1ba;border-radius:1px;"></div>
<div class="a" style="left:178.29999999999998px;top:1225.3333333333333px;width:7px;height:5px;background:#c3c1ba;border-radius:1px;"></div>
<div class="a" style="left:144.7px;top:1240.5px;width:7px;height:5px;background:#c3c1ba;border-radius:1px;"></div>
<div class="a" style="left:178.29999999999998px;top:1240.5px;width:7px;height:5px;background:#c3c1ba;border-radius:1px;"></div>
<div class="a" style="left:141.7px;top:1196px;width:46.6px;height:47px;background:#1c1c1c;border-radius:3px"></div>
<div class="a" style="left:145px;top:1190.5px;width:7px;height:8px;background:#c3c1ba;border-radius:1px;"></div>
<div class="a" style="left:145px;top:1242px;width:7px;height:8px;background:#c3c1ba;border-radius:1px;"></div>
<div class="a" style="left:156px;top:1190.5px;width:7px;height:8px;background:#c3c1ba;border-radius:1px;"></div>
<div class="a" style="left:156px;top:1242px;width:7px;height:8px;background:#c3c1ba;border-radius:1px;"></div>
<div class="a" style="left:167px;top:1190.5px;width:7px;height:8px;background:#c3c1ba;border-radius:1px;"></div>
<div class="a" style="left:167px;top:1242px;width:7px;height:8px;background:#c3c1ba;border-radius:1px;"></div>
<div class="a" style="left:178px;top:1190.5px;width:7px;height:8px;background:#c3c1ba;border-radius:1px;"></div>
<div class="a" style="left:178px;top:1242px;width:7px;height:8px;background:#c3c1ba;border-radius:1px;"></div>
<div class="a" style="left:156px;top:1196px;width:8px;height:20px;background:#6e5a4c;border-radius:1px"></div>
<div class="a" style="left:156px;top:1196px;width:8px;height:5.6000000000000005px;background:#c3c1ba;"></div>
<div class="a" style="left:156px;top:1210.4px;width:8px;height:5.6000000000000005px;background:#c3c1ba;"></div>
<div class="a" style="left:196px;top:1196px;width:8px;height:22px;background:#6e5a4c;border-radius:1px"></div>
<div class="a" style="left:196px;top:1196px;width:8px;height:6.16px;background:#c3c1ba;"></div>
<div class="a" style="left:196px;top:1211.84px;width:8px;height:6.16px;background:#c3c1ba;"></div>
<div class="a" style="left:196px;top:1222px;width:8px;height:22px;background:#6e5a4c;border-radius:1px"></div>
<div class="a" style="left:196px;top:1222px;width:8px;height:6.16px;background:#c3c1ba;"></div>
<div class="a" style="left:196px;top:1237.84px;width:8px;height:6.16px;background:#c3c1ba;"></div>
<div class="a" style="left:153px;top:1258.8px;width:22px;height:8.5px;background:#6e5a4c;border-radius:1px"></div>
<div class="a" style="left:153px;top:1258.8px;width:6.16px;height:8.5px;background:#c3c1ba;"></div>
<div class="a" style="left:168.84px;top:1258.8px;width:6.16px;height:8.5px;background:#c3c1ba;"></div>
<div class="a" style="left:153px;top:1271px;width:22px;height:9.5px;background:#6e5a4c;border-radius:1px"></div>
<div class="a" style="left:153px;top:1271px;width:6.16px;height:9.5px;background:#c3c1ba;"></div>
<div class="a" style="left:168.84px;top:1271px;width:6.16px;height:9.5px;background:#c3c1ba;"></div>
<div class="a" style="left:112.7px;top:1260px;width:21.8px;height:22px;background:#1a1a1a;border-radius:50%;box-shadow:0 0 0 2px #2c2c2c"></div>
<div class="a" style="left:127.2px;top:1293.7px;width:74px;height:56.6px;background:transparent;border:1.5px solid #c6cbcb;"></div>
<div class="a" style="left:134px;top:1297px;width:62px;height:50px;background:#1b1b1b;"></div>
<div class="a" style="left:122.8px;top:1306.7px;width:11.7px;height:30.6px;background:#c9c7c0;border-radius:1px;border-radius:2px"></div>
<div class="a" style="left:191px;top:1306.7px;width:16px;height:30.6px;background:#c9c7c0;border-radius:1px;border-radius:2px"></div>
<div class="a" style="left:271px;top:1150px;width:30.6px;height:29px;background:transparent;border:1.5px solid #c6cbcb;border-left:none"></div>
<div class="a" style="left:268px;top:1161.02px;width:9px;height:7px;background:#c3c1ba;border-radius:1px;"></div>
<div class="a" style="left:293.6px;top:1153.48px;width:9px;height:6px;background:#c3c1ba;border-radius:1px;"></div>
<div class="a" style="left:293.6px;top:1169.72px;width:9px;height:6px;background:#c3c1ba;border-radius:1px;"></div>
<div class="a" style="left:274px;top:1184.6px;width:23px;height:9px;background:#6e5a4c;border-radius:1px"></div>
<div class="a" style="left:274px;top:1184.6px;width:6.44px;height:9px;background:#c3c1ba;"></div>
<div class="a" style="left:290.56px;top:1184.6px;width:6.44px;height:9px;background:#c3c1ba;"></div>
<div class="a" style="left:274px;top:1198px;width:23px;height:9px;background:#6e5a4c;border-radius:1px"></div>
<div class="a" style="left:274px;top:1198px;width:6.44px;height:9px;background:#c3c1ba;"></div>
<div class="a" style="left:290.56px;top:1198px;width:6.44px;height:9px;background:#c3c1ba;"></div>
<div class="a" style="left:274px;top:1211px;width:23px;height:9px;background:#6e5a4c;border-radius:1px"></div>
<div class="a" style="left:274px;top:1211px;width:6.44px;height:9px;background:#c3c1ba;"></div>
<div class="a" style="left:290.56px;top:1211px;width:6.44px;height:9px;background:#c3c1ba;"></div>
<div class="a" style="left:274px;top:1224px;width:23px;height:9px;background:#6e5a4c;border-radius:1px"></div>
<div class="a" style="left:274px;top:1224px;width:6.44px;height:9px;background:#c3c1ba;"></div>
<div class="a" style="left:290.56px;top:1224px;width:6.44px;height:9px;background:#c3c1ba;"></div>
<div class="a" style="left:271px;top:1240px;width:30.6px;height:29px;background:transparent;border:1.5px solid #c6cbcb;border-left:none"></div>
<div class="a" style="left:268px;top:1251.02px;width:9px;height:7px;background:#c3c1ba;border-radius:1px;"></div>
<div class="a" style="left:293.6px;top:1243.48px;width:9px;height:6px;background:#c3c1ba;border-radius:1px;"></div>
<div class="a" style="left:293.6px;top:1259.72px;width:9px;height:6px;background:#c3c1ba;border-radius:1px;"></div>
<div class="a" style="left:274px;top:1276px;width:23px;height:9px;background:#6e5a4c;border-radius:1px"></div>
<div class="a" style="left:274px;top:1276px;width:6.44px;height:9px;background:#c3c1ba;"></div>
<div class="a" style="left:290.56px;top:1276px;width:6.44px;height:9px;background:#c3c1ba;"></div>
<div class="a" style="left:258px;top:1158.5px;width:10px;height:21.5px;background:#6e5a4c;border-radius:1px"></div>
<div class="a" style="left:258px;top:1158.5px;width:10px;height:6.0200000000000005px;background:#c3c1ba;"></div>
<div class="a" style="left:258px;top:1173.98px;width:10px;height:6.0200000000000005px;background:#c3c1ba;"></div>
<div class="a" style="left:258px;top:1244px;width:10px;height:22px;background:#6e5a4c;border-radius:1px"></div>
<div class="a" style="left:258px;top:1244px;width:10px;height:6.16px;background:#c3c1ba;"></div>
<div class="a" style="left:258px;top:1259.84px;width:10px;height:6.16px;background:#c3c1ba;"></div>
<div class="a" style="left:311.8px;top:1113.4px;width:32px;height:32px;background:transparent;border:1.5px solid #c6cbcb;border-left:none"></div>
<div class="a" style="left:308.8px;top:1125.5600000000002px;width:9px;height:7px;background:#c3c1ba;border-radius:1px;"></div>
<div class="a" style="left:335.8px;top:1117.24px;width:9px;height:6px;background:#c3c1ba;border-radius:1px;"></div>
<div class="a" style="left:335.8px;top:1135.16px;width:9px;height:6px;background:#c3c1ba;border-radius:1px;"></div>
<div class="a" style="left:364px;top:1125px;width:9.5px;height:20.4px;background:#6e5a4c;border-radius:1px"></div>
<div class="a" style="left:364px;top:1125px;width:9.5px;height:5.712px;background:#c3c1ba;"></div>
<div class="a" style="left:364px;top:1139.688px;width:9.5px;height:5.712px;background:#c3c1ba;"></div>
<div class="a" style="left:378px;top:1125px;width:9.5px;height:20.4px;background:#6e5a4c;border-radius:1px"></div>
<div class="a" style="left:378px;top:1125px;width:9.5px;height:5.712px;background:#c3c1ba;"></div>
<div class="a" style="left:378px;top:1139.688px;width:9.5px;height:5.712px;background:#c3c1ba;"></div>
<div class="a" style="left:392px;top:1125px;width:9.5px;height:20.4px;background:#6e5a4c;border-radius:1px"></div>
<div class="a" style="left:392px;top:1125px;width:9.5px;height:5.712px;background:#c3c1ba;"></div>
<div class="a" style="left:392px;top:1139.688px;width:9.5px;height:5.712px;background:#c3c1ba;"></div>
<div class="a" style="left:406px;top:1125px;width:9.5px;height:20.4px;background:#6e5a4c;border-radius:1px"></div>
<div class="a" style="left:406px;top:1125px;width:9.5px;height:5.712px;background:#c3c1ba;"></div>
<div class="a" style="left:406px;top:1139.688px;width:9.5px;height:5.712px;background:#c3c1ba;"></div>
<div class="a" style="left:419px;top:1125px;width:9.5px;height:20.4px;background:#6e5a4c;border-radius:1px"></div>
<div class="a" style="left:419px;top:1125px;width:9.5px;height:5.712px;background:#c3c1ba;"></div>
<div class="a" style="left:419px;top:1139.688px;width:9.5px;height:5.712px;background:#c3c1ba;"></div>
<div class="a" style="left:330px;top:1183px;width:56px;height:48px;background:#1e1e1e;border-radius:3px"></div>
<div class="a" style="left:327px;top:1187px;width:8px;height:5px;background:#c3c1ba;border-radius:1px;"></div>
<div class="a" style="left:379px;top:1187px;width:8px;height:5px;background:#c3c1ba;border-radius:1px;"></div>
<div class="a" style="left:327px;top:1198px;width:8px;height:5px;background:#c3c1ba;border-radius:1px;"></div>
<div class="a" style="left:379px;top:1198px;width:8px;height:5px;background:#c3c1ba;border-radius:1px;"></div>
<div class="a" style="left:327px;top:1209px;width:8px;height:5px;background:#c3c1ba;border-radius:1px;"></div>
<div class="a" style="left:379px;top:1209px;width:8px;height:5px;background:#c3c1ba;border-radius:1px;"></div>
<div class="a" style="left:327px;top:1220px;width:8px;height:5px;background:#c3c1ba;border-radius:1px;"></div>
<div class="a" style="left:379px;top:1220px;width:8px;height:5px;background:#c3c1ba;border-radius:1px;"></div>
<div class="a" style="left:336px;top:1231px;width:20px;height:8px;background:#6e5a4c;border-radius:1px"></div>
<div class="a" style="left:336px;top:1231px;width:5.6000000000000005px;height:8px;background:#c3c1ba;"></div>
<div class="a" style="left:350.4px;top:1231px;width:5.6000000000000005px;height:8px;background:#c3c1ba;"></div>
<div class="a" style="left:407.7px;top:1196px;width:22px;height:8px;background:#6e5a4c;border-radius:1px"></div>
<div class="a" style="left:407.7px;top:1196px;width:6.16px;height:8px;background:#c3c1ba;"></div>
<div class="a" style="left:423.53999999999996px;top:1196px;width:6.16px;height:8px;background:#c3c1ba;"></div>
<div class="a" style="left:407.7px;top:1207px;width:22px;height:8px;background:#6e5a4c;border-radius:1px"></div>
<div class="a" style="left:407.7px;top:1207px;width:6.16px;height:8px;background:#c3c1ba;"></div>
<div class="a" style="left:423.53999999999996px;top:1207px;width:6.16px;height:8px;background:#c3c1ba;"></div>
<div class="a" style="left:407.7px;top:1218px;width:22px;height:8px;background:#6e5a4c;border-radius:1px"></div>
<div class="a" style="left:407.7px;top:1218px;width:6.16px;height:8px;background:#c3c1ba;"></div>
<div class="a" style="left:423.53999999999996px;top:1218px;width:6.16px;height:8px;background:#c3c1ba;"></div>
<div class="a" style="left:329px;top:1261.7px;width:29px;height:14.3px;background:#6e5a4c;border-radius:1px"></div>
<div class="a" style="left:329px;top:1261.7px;width:8.120000000000001px;height:14.3px;background:#c3c1ba;"></div>
<div class="a" style="left:349.88px;top:1261.7px;width:8.120000000000001px;height:14.3px;background:#c3c1ba;"></div>
<div class="a" style="left:459px;top:1266px;width:74px;height:40px;background:transparent;border:1.5px solid #c6cbcb;"></div>
<div class="a" style="left:463px;top:1270px;width:66px;height:32px;background:#1c1c1c;"></div>
<div class="a" style="left:464px;top:1263px;width:12px;height:11px;background:#c3c1ba;border-radius:1px;"></div>
<div class="a" style="left:519px;top:1263px;width:12px;height:11px;background:#c3c1ba;border-radius:1px;"></div>
<div class="a" style="left:464px;top:1296px;width:12px;height:11px;background:#c3c1ba;border-radius:1px;"></div>
<div class="a" style="left:519px;top:1296px;width:12px;height:11px;background:#c3c1ba;border-radius:1px;"></div>
<div class="a" style="left:570.8px;top:1264.6px;width:23px;height:8.7px;background:#6e5a4c;border-radius:1px"></div>
<div class="a" style="left:570.8px;top:1264.6px;width:6.44px;height:8.7px;background:#c3c1ba;"></div>
<div class="a" style="left:587.3599999999999px;top:1264.6px;width:6.44px;height:8.7px;background:#c3c1ba;"></div>
<div class="a" style="left:545.4px;top:1280.7px;width:42px;height:40.3px;background:#1b1b1b;"></div>
<div class="a" style="left:540.4px;top:1282.2px;width:7px;height:5px;background:#c3c1ba;border-radius:1px;"></div>
<div class="a" style="left:585.4px;top:1282.2px;width:7px;height:5px;background:#c3c1ba;border-radius:1px;"></div>
<div class="a" style="left:540.4px;top:1292.9666666666667px;width:7px;height:5px;background:#c3c1ba;border-radius:1px;"></div>
<div class="a" style="left:585.4px;top:1292.9666666666667px;width:7px;height:5px;background:#c3c1ba;border-radius:1px;"></div>
<div class="a" style="left:540.4px;top:1303.7333333333333px;width:7px;height:5px;background:#c3c1ba;border-radius:1px;"></div>
<div class="a" style="left:585.4px;top:1303.7333333333333px;width:7px;height:5px;background:#c3c1ba;border-radius:1px;"></div>
<div class="a" style="left:540.4px;top:1314.5px;width:7px;height:5px;background:#c3c1ba;border-radius:1px;"></div>
<div class="a" style="left:585.4px;top:1314.5px;width:7px;height:5px;background:#c3c1ba;border-radius:1px;"></div>
<div class="a" style="left:632px;top:1238.4px;width:36px;height:29px;background:transparent;border:1.5px solid #c6cbcb;border-left:none"></div>
<div class="a" style="left:629px;top:1249.42px;width:9px;height:7px;background:#c3c1ba;border-radius:1px;"></div>
<div class="a" style="left:660px;top:1241.88px;width:9px;height:6px;background:#c3c1ba;border-radius:1px;"></div>
<div class="a" style="left:660px;top:1258.1200000000001px;width:9px;height:6px;background:#c3c1ba;border-radius:1px;"></div>
<div class="a" style="left:595.5px;top:1244px;width:20px;height:8px;background:#6e5a4c;border-radius:1px"></div>
<div class="a" style="left:595.5px;top:1244px;width:5.6000000000000005px;height:8px;background:#c3c1ba;"></div>
<div class="a" style="left:609.9px;top:1244px;width:5.6000000000000005px;height:8px;background:#c3c1ba;"></div>
<div class="a" style="left:611px;top:1246px;width:8px;height:20px;background:#6e5a4c;border-radius:1px"></div>
<div class="a" style="left:611px;top:1246px;width:8px;height:5.6000000000000005px;background:#c3c1ba;"></div>
<div class="a" style="left:611px;top:1260.4px;width:8px;height:5.6000000000000005px;background:#c3c1ba;"></div>
<div class="a" style="left:625px;top:1274.8px;width:37px;height:30.5px;background:transparent;border:1.5px solid #c6cbcb;border-left:none"></div>
<div class="a" style="left:622px;top:1286.3899999999999px;width:9px;height:7px;background:#c3c1ba;border-radius:1px;"></div>
<div class="a" style="left:654px;top:1278.46px;width:9px;height:6px;background:#c3c1ba;border-radius:1px;"></div>
<div class="a" style="left:654px;top:1295.54px;width:9px;height:6px;background:#c3c1ba;border-radius:1px;"></div>
<div class="a" style="left:625px;top:1309.7px;width:37px;height:29px;background:transparent;border:1.5px solid #c6cbcb;border-left:none"></div>
<div class="a" style="left:622px;top:1320.72px;width:9px;height:7px;background:#c3c1ba;border-radius:1px;"></div>
<div class="a" style="left:654px;top:1313.18px;width:9px;height:6px;background:#c3c1ba;border-radius:1px;"></div>
<div class="a" style="left:654px;top:1329.42px;width:9px;height:6px;background:#c3c1ba;border-radius:1px;"></div>
<div class="a" style="left:605.7px;top:1276px;width:8px;height:24px;background:#6e5a4c;border-radius:1px"></div>
<div class="a" style="left:605.7px;top:1276px;width:8px;height:6.720000000000001px;background:#c3c1ba;"></div>
<div class="a" style="left:605.7px;top:1293.28px;width:8px;height:6.720000000000001px;background:#c3c1ba;"></div>
<div class="a" style="left:605.7px;top:1311px;width:8px;height:24px;background:#6e5a4c;border-radius:1px"></div>
<div class="a" style="left:605.7px;top:1311px;width:8px;height:6.720000000000001px;background:#c3c1ba;"></div>
<div class="a" style="left:605.7px;top:1328.28px;width:8px;height:6.720000000000001px;background:#c3c1ba;"></div>
<div class="a" style="left:662.4px;top:1276px;width:8px;height:24px;background:#6e5a4c;border-radius:1px"></div>
<div class="a" style="left:662.4px;top:1276px;width:8px;height:6.720000000000001px;background:#c3c1ba;"></div>
<div class="a" style="left:662.4px;top:1293.28px;width:8px;height:6.720000000000001px;background:#c3c1ba;"></div>
<div class="a" style="left:662.4px;top:1311px;width:8px;height:24px;background:#6e5a4c;border-radius:1px"></div>
<div class="a" style="left:662.4px;top:1311px;width:8px;height:6.720000000000001px;background:#c3c1ba;"></div>
<div class="a" style="left:662.4px;top:1328.28px;width:8px;height:6.720000000000001px;background:#c3c1ba;"></div>
<div class="a" style="left:477.8px;top:1312.6px;width:11.6px;height:14.4px;background:transparent;border:2px solid #bdbdb8;border-radius:5px"></div>
<div class="a" style="left:477.8px;top:1346px;width:11.6px;height:14.4px;background:transparent;border:2px solid #bdbdb8;border-radius:5px"></div>
<div class="a" style="left:700px;top:1219px;width:104px;height:102px;background:#1d1d1d;transform:rotate(3deg);transform-origin:center"></div>
<div class="a" style="left:720px;top:1222px;width:84px;height:2px;background:#c2c6c6;transform:rotate(8deg);transform-origin:left"></div>
<div class="a" style="left:703px;top:1247px;width:9px;height:19px;background:#c3c1ba;border-radius:1px;"></div>
<div class="a" style="left:793px;top:1269px;width:9px;height:20px;background:#c3c1ba;border-radius:1px;"></div>
<div class="a" style="left:707.4px;top:1312.6px;width:36.4px;height:17.4px;background:transparent;border:2px solid #b5b5b0;border-radius:2px"></div>
<div class="a" style="left:707px;top:1313px;width:7px;height:15px;background:#c3c1ba;border-radius:1px;"></div>
<div class="a" style="left:737px;top:1315px;width:7px;height:15px;background:#c3c1ba;border-radius:1px;"></div>
<div class="a" style="left:675px;top:1250px;width:9px;height:25px;background:#111;"></div>
<div class="a" style="left:766.2px;top:1307.6000000000001px;width:53.6px;height:53.6px;background:#a17832;border-radius:50%"></div>
<div class="a" style="left:779.7px;top:1321.1000000000001px;width:26.6px;height:26.6px;background:#4a3a22;border-radius:50%"></div>
<div class="a" style="left:781.1px;top:1322.5px;width:23.8px;height:23.8px;background:#f1f1ef;border-radius:50%"></div>
<div class="a" style="left:316px;top:1292px;width:115px;height:33.6px;background:transparent;border:2px solid #d42020"></div>
<div class="a" style="left:316px;top:1330px;width:115px;height:32px;background:transparent;border:2px solid #d42020"></div>
<div class="t" style="left:326.3px;top:1301.56px;font-size:21.5px;color:#e6e8e8;transform:scaleX(0.732);transform-origin:left top">Auto&nbsp;ON</div>
<div class="t" style="left:326.8px;top:1336.56px;font-size:21.5px;color:#e6e8e8;transform:scaleX(0.682);transform-origin:left top">CHG&nbsp;EN</div>
<div class="a" style="left:402.8px;top:1313px;width:9px;height:12px;background:#bdbdb8;border-radius:1px;border-radius:5px"></div>
<div class="a" style="left:402.8px;top:1347px;width:9px;height:13px;background:#bdbdb8;border-radius:1px;border-radius:5px"></div>
<div class="t" style="left:393.3px;top:1299.54px;font-size:26px;color:#e2141a;-webkit-text-stroke:0.9px #e2141a;transform:scaleX(1.12);transform-origin:left top">A</div>
<div class="t" style="left:394.5px;top:1331.7px;font-size:25px;color:#e2141a;-webkit-text-stroke:0.9px #e2141a;transform:scaleX(1.12);transform-origin:left top">B</div>
<div class="a" style="left:434px;top:1332px;width:10px;height:22.6px;background:#6e5a4c;border-radius:1px"></div>
<div class="a" style="left:434px;top:1332px;width:10px;height:6.328000000000001px;background:#c3c1ba;"></div>
<div class="a" style="left:434px;top:1348.272px;width:10px;height:6.328000000000001px;background:#c3c1ba;"></div>
<div class="a" style="left:447px;top:1332px;width:9.6px;height:22.6px;background:#6e5a4c;border-radius:1px"></div>
<div class="a" style="left:447px;top:1332px;width:9.6px;height:6.328000000000001px;background:#c3c1ba;"></div>
<div class="a" style="left:447px;top:1348.272px;width:9.6px;height:6.328000000000001px;background:#c3c1ba;"></div>
<div class="a" style="left:406px;top:1364.3px;width:78px;height:11px;background:#1e1e1e;border-radius:0 0 2px 2px;border-bottom:2px solid #b8b8b4"></div>
<div class="a" style="left:406px;top:1364.3px;width:10px;height:11px;background:#c0c0bc;"></div>
<div class="a" style="left:474px;top:1364.3px;width:10px;height:11px;background:#c0c0bc;"></div>
<div class="a" style="left:439px;top:1365px;width:3px;height:8px;background:#c0c0bc;"></div>
<div class="li" style="left:960.6px;top:105.9px;transform:scaleX(1.0366)">GPIO Header</div>
<div class="li" style="left:959.9px;top:191.6px;transform:scaleX(1.0564)">5V Out XH2.54</div>
<div class="li" style="left:958.9px;top:273.0px;transform:scaleX(1.0592)">DC 5V IN Jack 5521</div>
<div class="li" style="left:962.4px;top:353.0px;transform:scaleX(1.0560)">AC Power Loss Indicator</div>
<div class="li" style="left:958.8px;top:435.9px;transform:scaleX(1.0990)">Power Indicator</div>
<div class="li" style="left:957.2px;top:518.3px;transform:scaleX(1.1364)">Button Switch</div>
<div class="li" style="left:957.3px;top:598.6px;transform:scaleX(1.1235)">Battery Capacity Indicator</div>
<div class="li" style="left:961.0px;top:682.6px;transform:scaleX(1.0792)">Type-C Power Input</div>
<div class="li" style="left:962.6px;top:766.4px;transform:scaleX(1.0815)"><span style="color:#d2181c;-webkit-text-stroke-color:#d2181c">A:</span> Auto Power On</div>
<div class="li" style="left:960.4px;top:806.6px;transform:scaleX(1.0957)"><span style="color:#d2181c;-webkit-text-stroke-color:#d2181c">B:</span> Battery Charging Enabled</div>
<div class="li" style="left:957.8px;top:880.6px;transform:scaleX(1.0958)">1x4P PH2.0 for External Switch</div>
<div class="li" style="left:960.4px;top:958.0px;transform:scaleX(1.0520)">5V In XH2.54</div>
<div class="li" style="left:957.1px;top:1032.0px;transform:scaleX(1.1238)">External Battery Port:</div>
<div class="li" style="left:960.4px;top:1065.6px;transform:scaleX(1.0694)">can connect to X728-A2/X708-A1</div>
<div class="li" style="left:959.4px;top:1141.1px;transform:scaleX(1.0705)">Buzzer</div>
<div class="li" style="left:959.2px;top:1230.9px;transform:scaleX(1.1051)">Battery Reverse Polarity</div>
<div class="li" style="left:959.1px;top:1265.6px;transform:scaleX(1.1312)">Protection Indicator</div>
<div class="ln" style="left:904px;top:103.2px"><span style="font-size:31.5px;position:relative;top:1px;transform:scaleX(1.1)"><span style="display:inline-flex;align-items:baseline;gap:0px"><svg width="17.51" height="22.55" viewBox="0 0 55.6 71.6" style="vertical-align:baseline;overflow:visible"><path d="M17 27 L37.5 6 L37.5 65.6" stroke="#0d0d0d" stroke-width="12" fill="none" stroke-linecap="round" stroke-linejoin="round"/></svg></span></span></div>
<div class="ln" style="left:904px;top:188.1px"><span style="font-size:31.5px;position:relative;top:1px;transform:scaleX(1.1)"><span style="display:inline-flex;align-items:baseline;gap:0px"><span>2</span></span></span></div>
<div class="ln" style="left:904px;top:269.8px"><span style="font-size:31.5px;position:relative;top:1px;transform:scaleX(1.1)"><span style="display:inline-flex;align-items:baseline;gap:0px"><span>3</span></span></span></div>
<div class="ln" style="left:904px;top:349.8px"><span style="font-size:31.5px;position:relative;top:1px;transform:scaleX(1.1)"><span style="display:inline-flex;align-items:baseline;gap:0px"><span>4</span></span></span></div>
<div class="ln" style="left:904px;top:432.8px"><span style="font-size:31.5px;position:relative;top:1px;transform:scaleX(1.1)"><span style="display:inline-flex;align-items:baseline;gap:0px"><span>5</span></span></span></div>
<div class="ln" style="left:904px;top:514.8px"><span style="font-size:31.5px;position:relative;top:1px;transform:scaleX(1.1)"><span style="display:inline-flex;align-items:baseline;gap:0px"><span>6</span></span></span></div>
<div class="ln" style="left:904px;top:596.5px"><span style="font-size:31.5px;position:relative;top:1px;transform:scaleX(1.1)"><span style="display:inline-flex;align-items:baseline;gap:0px"><span>7</span></span></span></div>
<div class="ln" style="left:904px;top:679.8px"><span style="font-size:31.5px;position:relative;top:1px;transform:scaleX(1.1)"><span style="display:inline-flex;align-items:baseline;gap:0px"><span>8</span></span></span></div>
<div class="ln" style="left:904px;top:774.8px"><span style="font-size:31.5px;position:relative;top:1px;transform:scaleX(1.1)"><span style="display:inline-flex;align-items:baseline;gap:0px"><span>9</span></span></span></div>
<div class="ln" style="left:904px;top:877.8px"><span style="font-size:31.5px;position:relative;top:1px;transform:scaleX(1.0)"><span style="display:inline-flex;align-items:baseline;gap:-2.5px"><svg width="17.51" height="22.55" viewBox="0 0 55.6 71.6" style="vertical-align:baseline;overflow:visible"><path d="M17 27 L37.5 6 L37.5 65.6" stroke="#0d0d0d" stroke-width="12" fill="none" stroke-linecap="round" stroke-linejoin="round"/></svg><span>0</span></span></span></div>
<div class="ln" style="left:904px;top:955.2px"><span style="font-size:31.5px;position:relative;top:1px;transform:scaleX(1.0)"><span style="display:inline-flex;align-items:baseline;gap:-2.5px"><svg width="17.51" height="22.55" viewBox="0 0 55.6 71.6" style="vertical-align:baseline;overflow:visible"><path d="M17 27 L37.5 6 L37.5 65.6" stroke="#0d0d0d" stroke-width="12" fill="none" stroke-linecap="round" stroke-linejoin="round"/></svg><svg width="17.51" height="22.55" viewBox="0 0 55.6 71.6" style="vertical-align:baseline;overflow:visible"><path d="M17 27 L37.5 6 L37.5 65.6" stroke="#0d0d0d" stroke-width="12" fill="none" stroke-linecap="round" stroke-linejoin="round"/></svg></span></span></div>
<div class="ln" style="left:904px;top:1038.8px"><span style="font-size:31.5px;position:relative;top:1px;transform:scaleX(1.0)"><span style="display:inline-flex;align-items:baseline;gap:-2.5px"><svg width="17.51" height="22.55" viewBox="0 0 55.6 71.6" style="vertical-align:baseline;overflow:visible"><path d="M17 27 L37.5 6 L37.5 65.6" stroke="#0d0d0d" stroke-width="12" fill="none" stroke-linecap="round" stroke-linejoin="round"/></svg><span>2</span></span></span></div>
<div class="ln" style="left:904px;top:1136.8px"><span style="font-size:31.5px;position:relative;top:1px;transform:scaleX(1.0)"><span style="display:inline-flex;align-items:baseline;gap:-2.5px"><svg width="17.51" height="22.55" viewBox="0 0 55.6 71.6" style="vertical-align:baseline;overflow:visible"><path d="M17 27 L37.5 6 L37.5 65.6" stroke="#0d0d0d" stroke-width="12" fill="none" stroke-linecap="round" stroke-linejoin="round"/></svg><span>3</span></span></span></div>
<div class="ln red" style="left:904px;top:1235.5px"><span style="font-size:31.5px;position:relative;top:1px;transform:scaleX(1.0)"><span style="display:inline-flex;align-items:baseline;gap:-2.5px"><svg width="17.51" height="22.55" viewBox="0 0 55.6 71.6" style="vertical-align:baseline;overflow:visible"><path d="M17 27 L37.5 6 L37.5 65.6" stroke="#0d0d0d" stroke-width="12" fill="none" stroke-linecap="round" stroke-linejoin="round"/></svg><span>4</span></span></span></div>
<div class="num" style="left:330.5px;top:83.2px;width:41.6px;height:41.6px;background:#f18a38"><span style="font-size:39px;position:relative;top:0px;left:0px;transform:scaleX(1.2)"><span style="display:inline-flex;align-items:baseline;gap:0px"><svg width="21.68" height="27.92" viewBox="0 0 55.6 71.6" style="vertical-align:baseline;overflow:visible"><path d="M17 27 L37.5 6 L37.5 65.6" stroke="#0d0d0d" stroke-width="13" fill="none" stroke-linecap="round" stroke-linejoin="round"/></svg></span></span></div>
<div class="num" style="left:637.7px;top:83.5px;width:41.6px;height:41.6px;background:#f18a38"><span style="font-size:39px;position:relative;top:0px;left:0px;transform:scaleX(1.2)"><span style="display:inline-flex;align-items:baseline;gap:0px"><span>2</span></span></span></div>
<div class="num" style="left:753.0px;top:148.0px;width:42px;height:42px;background:#f18a38"><span style="font-size:39px;position:relative;top:0px;left:0px;transform:scaleX(1.2)"><span style="display:inline-flex;align-items:baseline;gap:0px"><span>3</span></span></span></div>
<div class="num" style="left:22.8px;top:358.5px;width:42px;height:42px;background:#f18a38"><span style="font-size:39px;position:relative;top:0px;left:0px;transform:scaleX(1.2)"><span style="display:inline-flex;align-items:baseline;gap:0px"><span>4</span></span></span></div>
<div class="num" style="left:25.2px;top:530.0px;width:41.0px;height:41.0px;background:#f18a38"><span style="font-size:39px;position:relative;top:0px;left:0px;transform:scaleX(1.2)"><span style="display:inline-flex;align-items:baseline;gap:0px"><span>5</span></span></span></div>
<div class="num" style="left:146.0px;top:662.7px;width:40.6px;height:40.6px;background:#f18a38"><span style="font-size:39px;position:relative;top:0px;left:0px;transform:scaleX(1.2)"><span style="display:inline-flex;align-items:baseline;gap:0px"><span>6</span></span></span></div>
<div class="num" style="left:266.7px;top:662.5px;width:41.0px;height:41.0px;background:#f18a38"><span style="font-size:39px;position:relative;top:0px;left:0px;transform:scaleX(1.2)"><span style="display:inline-flex;align-items:baseline;gap:0px"><span>7</span></span></span></div>
<div class="num" style="left:415.3px;top:663.2px;width:41.0px;height:41.0px;background:#f18a38"><span style="font-size:39px;position:relative;top:0px;left:0px;transform:scaleX(1.2)"><span style="display:inline-flex;align-items:baseline;gap:0px"><span>8</span></span></span></div>
<div class="num" style="left:515.4px;top:662.0px;width:40px;height:40px;background:#f18a38"><span style="font-size:39px;position:relative;top:0px;left:0px;transform:scaleX(1.2)"><span style="display:inline-flex;align-items:baseline;gap:0px"><span>9</span></span></span></div>
<div class="num" style="left:720.0px;top:668.0px;width:41.0px;height:41.0px;background:#f18a38"><span style="font-size:32px;position:relative;top:0px;left:-1px;transform:scaleX(1.15)"><span style="display:inline-flex;align-items:baseline;gap:1px"><svg width="17.79" height="22.91" viewBox="0 0 55.6 71.6" style="vertical-align:baseline;overflow:visible"><path d="M17 27 L37.5 6 L37.5 65.6" stroke="#0d0d0d" stroke-width="13" fill="none" stroke-linecap="round" stroke-linejoin="round"/></svg><span>0</span></span></span></div>
<div class="num" style="left:806.4px;top:295.8px;width:40px;height:40px;background:#e8150f"><span style="font-size:33px;position:relative;top:-0.5px;left:0px;transform:scaleX(1.05)"><span style="display:inline-flex;align-items:baseline;gap:-1px"><svg width="18.35" height="23.63" viewBox="0 0 55.6 71.6" style="vertical-align:baseline;overflow:visible"><path d="M17 27 L37.5 6 L37.5 65.6" stroke="#0d0d0d" stroke-width="13" fill="none" stroke-linecap="round" stroke-linejoin="round"/></svg><span>4</span></span></span></div>
<div class="num" style="left:808.0px;top:516.5px;width:40px;height:40px;background:#e8150f"><span style="font-size:35px;position:relative;top:1px;left:-1px;transform:scaleX(1.0)"><span style="display:inline-flex;align-items:baseline;gap:-1px"><svg width="19.46" height="25.06" viewBox="0 0 55.6 71.6" style="vertical-align:baseline;overflow:visible"><path d="M17 27 L37.5 6 L37.5 65.6" stroke="#0d0d0d" stroke-width="13" fill="none" stroke-linecap="round" stroke-linejoin="round"/></svg><span>4</span></span></span></div>
<div class="num" style="left:103.1px;top:796.0px;width:41.0px;height:41.0px;background:#f18a38"><span style="font-size:38px;position:relative;top:0px;left:-2.5px;transform:scaleX(1.1)"><span style="display:inline-flex;align-items:baseline;gap:-3px"><svg width="21.13" height="27.21" viewBox="0 0 55.6 71.6" style="vertical-align:baseline;overflow:visible"><path d="M17 27 L37.5 6 L37.5 65.6" stroke="#0d0d0d" stroke-width="13" fill="none" stroke-linecap="round" stroke-linejoin="round"/></svg><svg width="21.13" height="27.21" viewBox="0 0 55.6 71.6" style="vertical-align:baseline;overflow:visible"><path d="M17 27 L37.5 6 L37.5 65.6" stroke="#0d0d0d" stroke-width="13" fill="none" stroke-linecap="round" stroke-linejoin="round"/></svg></span></span></div>
<div class="num" style="left:198.5px;top:795.5px;width:42px;height:42px;background:#f18a38"><span style="font-size:38px;position:relative;top:0px;left:0px;transform:scaleX(1.0)"><span style="display:inline-flex;align-items:baseline;gap:-3px"><svg width="21.13" height="27.21" viewBox="0 0 55.6 71.6" style="vertical-align:baseline;overflow:visible"><path d="M17 27 L37.5 6 L37.5 65.6" stroke="#0d0d0d" stroke-width="13" fill="none" stroke-linecap="round" stroke-linejoin="round"/></svg><span>2</span></span></span></div>
<div class="num" style="left:737.3px;top:1246.0px;width:48px;height:48px;background:#f18a38"><span style="font-size:39px;position:relative;top:0px;left:0px;transform:scaleX(1.0)"><span style="display:inline-flex;align-items:baseline;gap:-3px"><svg width="21.68" height="27.92" viewBox="0 0 55.6 71.6" style="vertical-align:baseline;overflow:visible"><path d="M17 27 L37.5 6 L37.5 65.6" stroke="#0d0d0d" stroke-width="13" fill="none" stroke-linecap="round" stroke-linejoin="round"/></svg><span>3</span></span></span></div>
<div class="num" style="left:352.5px;top:1366.4px;width:40.6px;height:40.6px;background:#f18a38"><span style="font-size:39px;position:relative;top:0px;left:0px;transform:scaleX(1.2)"><span style="display:inline-flex;align-items:baseline;gap:0px"><span>9</span></span></span></div>
</body></html>
